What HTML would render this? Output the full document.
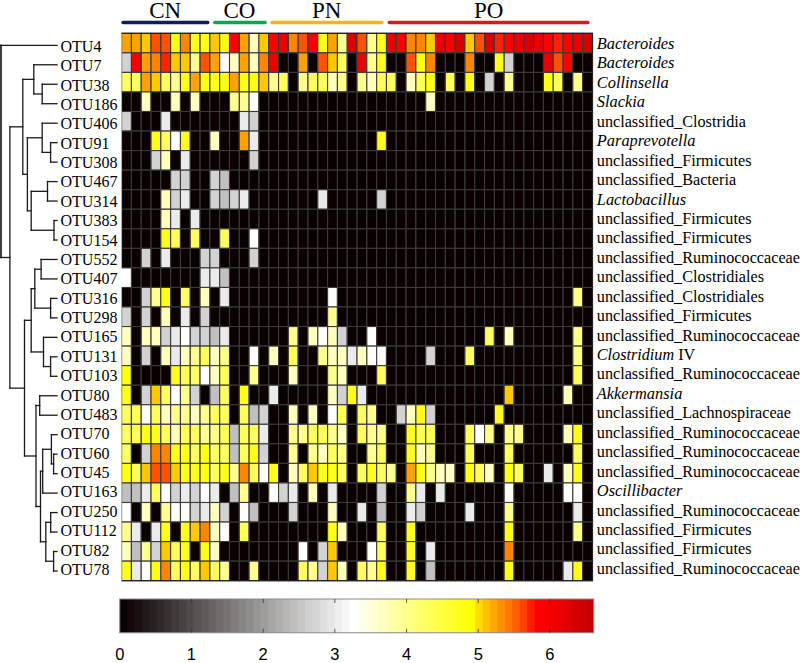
<!DOCTYPE html>
<html><head><meta charset="utf-8"><title>heatmap</title>
<style>
html,body{margin:0;padding:0;background:#fff;}
body{width:800px;height:663px;overflow:hidden;}
svg{display:block;}
text{font-family:"Liberation Serif",serif;fill:#000;}
.s{font-family:"Liberation Sans",sans-serif;}
.i{font-style:italic;}
</style></head><body>
<svg width="800" height="663" viewBox="0 0 800 663">
<line x1="123.05" y1="22.6" x2="207.75" y2="22.6" stroke="#0c1e5e" stroke-width="3.5" stroke-linecap="round"/>
<text x="165.2" y="17.7" font-size="23" text-anchor="middle">CN</text>
<line x1="214.85" y1="22.6" x2="265.05" y2="22.6" stroke="#0aa84f" stroke-width="3.5" stroke-linecap="round"/>
<text x="239.5" y="17.7" font-size="23" text-anchor="middle">CO</text>
<line x1="272.05" y1="22.6" x2="381.85" y2="22.6" stroke="#fbb60a" stroke-width="3.5" stroke-linecap="round"/>
<text x="326.7" y="17.7" font-size="23" text-anchor="middle">PN</text>
<line x1="389.35" y1="22.6" x2="587.85" y2="22.6" stroke="#ee1018" stroke-width="3.5" stroke-linecap="round"/>
<text x="488.7" y="17.7" font-size="23" text-anchor="middle">PO</text>
<g stroke="#3a3a3a" stroke-width="1.1">
<rect x="121.6" y="33.3" width="9.81" height="19.55" fill="#ffa200"/><rect x="131.41" y="33.3" width="9.81" height="19.55" fill="#ffa200"/><rect x="141.22" y="33.3" width="9.81" height="19.55" fill="#ffc800"/><rect x="151.03" y="33.3" width="9.81" height="19.55" fill="#ff5200"/><rect x="160.84" y="33.3" width="9.81" height="19.55" fill="#ff5200"/><rect x="170.65" y="33.3" width="9.81" height="19.55" fill="#ffff18"/><rect x="180.46" y="33.3" width="9.81" height="19.55" fill="#ff8400"/><rect x="190.27" y="33.3" width="9.81" height="19.55" fill="#ffff18"/><rect x="200.08" y="33.3" width="9.81" height="19.55" fill="#ffff18"/><rect x="209.89" y="33.3" width="9.81" height="19.55" fill="#ffc800"/><rect x="219.7" y="33.3" width="9.81" height="19.55" fill="#ffff18"/><rect x="229.51" y="33.3" width="9.81" height="19.55" fill="#fc0000"/><rect x="239.32" y="33.3" width="9.81" height="19.55" fill="#ffa200"/><rect x="249.13" y="33.3" width="9.81" height="19.55" fill="#ffffbe"/><rect x="258.94" y="33.3" width="9.81" height="19.55" fill="#ffc800"/><rect x="268.75" y="33.3" width="9.81" height="19.55" fill="#fc0000"/><rect x="278.56" y="33.3" width="9.81" height="19.55" fill="#ea0000"/><rect x="288.37" y="33.3" width="9.81" height="19.55" fill="#ff8400"/><rect x="298.18" y="33.3" width="9.81" height="19.55" fill="#ff5200"/><rect x="307.99" y="33.3" width="9.81" height="19.55" fill="#fc0000"/><rect x="317.8" y="33.3" width="9.81" height="19.55" fill="#ffff18"/><rect x="327.61" y="33.3" width="9.81" height="19.55" fill="#ffa200"/><rect x="337.42" y="33.3" width="9.81" height="19.55" fill="#ffff90"/><rect x="347.23" y="33.3" width="9.81" height="19.55" fill="#d60000"/><rect x="357.04" y="33.3" width="9.81" height="19.55" fill="#ff5200"/><rect x="366.85" y="33.3" width="9.81" height="19.55" fill="#ffff90"/><rect x="376.66" y="33.3" width="9.81" height="19.55" fill="#ffff18"/><rect x="386.47" y="33.3" width="9.81" height="19.55" fill="#ea0000"/><rect x="396.28" y="33.3" width="9.81" height="19.55" fill="#fc0000"/><rect x="406.09" y="33.3" width="9.81" height="19.55" fill="#ff8400"/><rect x="415.9" y="33.3" width="9.81" height="19.55" fill="#ff8400"/><rect x="425.71" y="33.3" width="9.81" height="19.55" fill="#ffc800"/><rect x="435.52" y="33.3" width="9.81" height="19.55" fill="#ea0000"/><rect x="445.33" y="33.3" width="9.81" height="19.55" fill="#fc0000"/><rect x="455.14" y="33.3" width="9.81" height="19.55" fill="#d60000"/><rect x="464.95" y="33.3" width="9.81" height="19.55" fill="#ffc800"/><rect x="474.76" y="33.3" width="9.81" height="19.55" fill="#ff5200"/><rect x="484.57" y="33.3" width="9.81" height="19.55" fill="#d60000"/><rect x="494.38" y="33.3" width="9.81" height="19.55" fill="#ff2200"/><rect x="504.19" y="33.3" width="9.81" height="19.55" fill="#fc0000"/><rect x="514" y="33.3" width="9.81" height="19.55" fill="#ea0000"/><rect x="523.81" y="33.3" width="9.81" height="19.55" fill="#d60000"/><rect x="533.62" y="33.3" width="9.81" height="19.55" fill="#ea0000"/><rect x="543.43" y="33.3" width="9.81" height="19.55" fill="#fc0000"/><rect x="553.24" y="33.3" width="9.81" height="19.55" fill="#ff2200"/><rect x="563.05" y="33.3" width="9.81" height="19.55" fill="#fc0000"/><rect x="572.86" y="33.3" width="9.81" height="19.55" fill="#ea0000"/><rect x="582.67" y="33.3" width="9.81" height="19.55" fill="#d60000"/>
<rect x="121.6" y="52.85" width="9.81" height="19.55" fill="#d2d2d2"/><rect x="131.41" y="52.85" width="9.81" height="19.55" fill="#fc0000"/><rect x="141.22" y="52.85" width="9.81" height="19.55" fill="#ffa200"/><rect x="151.03" y="52.85" width="9.81" height="19.55" fill="#ff8400"/><rect x="160.84" y="52.85" width="9.81" height="19.55" fill="#ff2200"/><rect x="170.65" y="52.85" width="9.81" height="19.55" fill="#ffc800"/><rect x="180.46" y="52.85" width="9.81" height="19.55" fill="#ffc800"/><rect x="190.27" y="52.85" width="9.81" height="19.55" fill="#ffff90"/><rect x="200.08" y="52.85" width="9.81" height="19.55" fill="#ff5200"/><rect x="209.89" y="52.85" width="9.81" height="19.55" fill="#ffa200"/><rect x="219.7" y="52.85" width="9.81" height="19.55" fill="#fffffb"/><rect x="229.51" y="52.85" width="9.81" height="19.55" fill="#ffffbe"/><rect x="239.32" y="52.85" width="9.81" height="19.55" fill="#ffa200"/><rect x="249.13" y="52.85" width="9.81" height="19.55" fill="#ffffbe"/><rect x="258.94" y="52.85" width="9.81" height="19.55" fill="#ff8400"/><rect x="268.75" y="52.85" width="9.81" height="19.55" fill="#ea0000"/><rect x="278.56" y="52.85" width="9.81" height="19.55" fill="#0a0000"/><rect x="288.37" y="52.85" width="9.81" height="19.55" fill="#0a0000"/><rect x="298.18" y="52.85" width="9.81" height="19.55" fill="#ffa200"/><rect x="307.99" y="52.85" width="9.81" height="19.55" fill="#0a0000"/><rect x="317.8" y="52.85" width="9.81" height="19.55" fill="#ff5200"/><rect x="327.61" y="52.85" width="9.81" height="19.55" fill="#ffc800"/><rect x="337.42" y="52.85" width="9.81" height="19.55" fill="#ffff5c"/><rect x="347.23" y="52.85" width="9.81" height="19.55" fill="#0a0000"/><rect x="357.04" y="52.85" width="9.81" height="19.55" fill="#ea0000"/><rect x="366.85" y="52.85" width="9.81" height="19.55" fill="#ffff90"/><rect x="376.66" y="52.85" width="9.81" height="19.55" fill="#ffff18"/><rect x="386.47" y="52.85" width="9.81" height="19.55" fill="#0a0000"/><rect x="396.28" y="52.85" width="9.81" height="19.55" fill="#0a0000"/><rect x="406.09" y="52.85" width="9.81" height="19.55" fill="#ff5200"/><rect x="415.9" y="52.85" width="9.81" height="19.55" fill="#ffff18"/><rect x="425.71" y="52.85" width="9.81" height="19.55" fill="#ff8400"/><rect x="435.52" y="52.85" width="9.81" height="19.55" fill="#0a0000"/><rect x="445.33" y="52.85" width="9.81" height="19.55" fill="#0a0000"/><rect x="455.14" y="52.85" width="9.81" height="19.55" fill="#0a0000"/><rect x="464.95" y="52.85" width="9.81" height="19.55" fill="#ff8400"/><rect x="474.76" y="52.85" width="9.81" height="19.55" fill="#0a0000"/><rect x="484.57" y="52.85" width="9.81" height="19.55" fill="#0a0000"/><rect x="494.38" y="52.85" width="9.81" height="19.55" fill="#ffff18"/><rect x="504.19" y="52.85" width="9.81" height="19.55" fill="#d2d2d2"/><rect x="514" y="52.85" width="9.81" height="19.55" fill="#0a0000"/><rect x="523.81" y="52.85" width="9.81" height="19.55" fill="#0a0000"/><rect x="533.62" y="52.85" width="9.81" height="19.55" fill="#0a0000"/><rect x="543.43" y="52.85" width="9.81" height="19.55" fill="#ea0000"/><rect x="553.24" y="52.85" width="9.81" height="19.55" fill="#ff5200"/><rect x="563.05" y="52.85" width="9.81" height="19.55" fill="#fc0000"/><rect x="572.86" y="52.85" width="9.81" height="19.55" fill="#0a0000"/><rect x="582.67" y="52.85" width="9.81" height="19.55" fill="#0a0000"/>
<rect x="121.6" y="72.4" width="9.81" height="19.55" fill="#ffff5c"/><rect x="131.41" y="72.4" width="9.81" height="19.55" fill="#ffff5c"/><rect x="141.22" y="72.4" width="9.81" height="19.55" fill="#ffa200"/><rect x="151.03" y="72.4" width="9.81" height="19.55" fill="#ffc800"/><rect x="160.84" y="72.4" width="9.81" height="19.55" fill="#ffff5c"/><rect x="170.65" y="72.4" width="9.81" height="19.55" fill="#ffff90"/><rect x="180.46" y="72.4" width="9.81" height="19.55" fill="#ffff18"/><rect x="190.27" y="72.4" width="9.81" height="19.55" fill="#ffa200"/><rect x="200.08" y="72.4" width="9.81" height="19.55" fill="#ffff18"/><rect x="209.89" y="72.4" width="9.81" height="19.55" fill="#ffff18"/><rect x="219.7" y="72.4" width="9.81" height="19.55" fill="#ffff18"/><rect x="229.51" y="72.4" width="9.81" height="19.55" fill="#ffa200"/><rect x="239.32" y="72.4" width="9.81" height="19.55" fill="#ffff18"/><rect x="249.13" y="72.4" width="9.81" height="19.55" fill="#ffff18"/><rect x="258.94" y="72.4" width="9.81" height="19.55" fill="#ffc800"/><rect x="268.75" y="72.4" width="9.81" height="19.55" fill="#ffff90"/><rect x="278.56" y="72.4" width="9.81" height="19.55" fill="#ffff5c"/><rect x="288.37" y="72.4" width="9.81" height="19.55" fill="#0a0000"/><rect x="298.18" y="72.4" width="9.81" height="19.55" fill="#ffff90"/><rect x="307.99" y="72.4" width="9.81" height="19.55" fill="#ffff5c"/><rect x="317.8" y="72.4" width="9.81" height="19.55" fill="#ffff5c"/><rect x="327.61" y="72.4" width="9.81" height="19.55" fill="#ffffbe"/><rect x="337.42" y="72.4" width="9.81" height="19.55" fill="#ffff90"/><rect x="347.23" y="72.4" width="9.81" height="19.55" fill="#0a0000"/><rect x="357.04" y="72.4" width="9.81" height="19.55" fill="#ffff90"/><rect x="366.85" y="72.4" width="9.81" height="19.55" fill="#ffffbe"/><rect x="376.66" y="72.4" width="9.81" height="19.55" fill="#ffff5c"/><rect x="386.47" y="72.4" width="9.81" height="19.55" fill="#ffff5c"/><rect x="396.28" y="72.4" width="9.81" height="19.55" fill="#0a0000"/><rect x="406.09" y="72.4" width="9.81" height="19.55" fill="#ffffbe"/><rect x="415.9" y="72.4" width="9.81" height="19.55" fill="#ffff5c"/><rect x="425.71" y="72.4" width="9.81" height="19.55" fill="#ffff18"/><rect x="435.52" y="72.4" width="9.81" height="19.55" fill="#0a0000"/><rect x="445.33" y="72.4" width="9.81" height="19.55" fill="#ffff5c"/><rect x="455.14" y="72.4" width="9.81" height="19.55" fill="#0a0000"/><rect x="464.95" y="72.4" width="9.81" height="19.55" fill="#ffff18"/><rect x="474.76" y="72.4" width="9.81" height="19.55" fill="#0a0000"/><rect x="484.57" y="72.4" width="9.81" height="19.55" fill="#d2d2d2"/><rect x="494.38" y="72.4" width="9.81" height="19.55" fill="#0a0000"/><rect x="504.19" y="72.4" width="9.81" height="19.55" fill="#ffff90"/><rect x="514" y="72.4" width="9.81" height="19.55" fill="#0a0000"/><rect x="523.81" y="72.4" width="9.81" height="19.55" fill="#0a0000"/><rect x="533.62" y="72.4" width="9.81" height="19.55" fill="#0a0000"/><rect x="543.43" y="72.4" width="9.81" height="19.55" fill="#ffff18"/><rect x="553.24" y="72.4" width="9.81" height="19.55" fill="#ffff5c"/><rect x="563.05" y="72.4" width="9.81" height="19.55" fill="#0a0000"/><rect x="572.86" y="72.4" width="9.81" height="19.55" fill="#ffff90"/><rect x="582.67" y="72.4" width="9.81" height="19.55" fill="#0a0000"/>
<rect x="121.6" y="91.95" width="9.81" height="19.55" fill="#0a0000"/><rect x="131.41" y="91.95" width="9.81" height="19.55" fill="#0a0000"/><rect x="141.22" y="91.95" width="9.81" height="19.55" fill="#ffffbe"/><rect x="151.03" y="91.95" width="9.81" height="19.55" fill="#0a0000"/><rect x="160.84" y="91.95" width="9.81" height="19.55" fill="#0a0000"/><rect x="170.65" y="91.95" width="9.81" height="19.55" fill="#ffffbe"/><rect x="180.46" y="91.95" width="9.81" height="19.55" fill="#0a0000"/><rect x="190.27" y="91.95" width="9.81" height="19.55" fill="#ffffbe"/><rect x="200.08" y="91.95" width="9.81" height="19.55" fill="#0a0000"/><rect x="209.89" y="91.95" width="9.81" height="19.55" fill="#0a0000"/><rect x="219.7" y="91.95" width="9.81" height="19.55" fill="#0a0000"/><rect x="229.51" y="91.95" width="9.81" height="19.55" fill="#ffff90"/><rect x="239.32" y="91.95" width="9.81" height="19.55" fill="#ffff90"/><rect x="249.13" y="91.95" width="9.81" height="19.55" fill="#fffffb"/><rect x="258.94" y="91.95" width="9.81" height="19.55" fill="#0a0000"/><rect x="268.75" y="91.95" width="9.81" height="19.55" fill="#0a0000"/><rect x="278.56" y="91.95" width="9.81" height="19.55" fill="#0a0000"/><rect x="288.37" y="91.95" width="9.81" height="19.55" fill="#0a0000"/><rect x="298.18" y="91.95" width="9.81" height="19.55" fill="#0a0000"/><rect x="307.99" y="91.95" width="9.81" height="19.55" fill="#0a0000"/><rect x="317.8" y="91.95" width="9.81" height="19.55" fill="#0a0000"/><rect x="327.61" y="91.95" width="9.81" height="19.55" fill="#0a0000"/><rect x="337.42" y="91.95" width="9.81" height="19.55" fill="#0a0000"/><rect x="347.23" y="91.95" width="9.81" height="19.55" fill="#0a0000"/><rect x="357.04" y="91.95" width="9.81" height="19.55" fill="#0a0000"/><rect x="366.85" y="91.95" width="9.81" height="19.55" fill="#0a0000"/><rect x="376.66" y="91.95" width="9.81" height="19.55" fill="#0a0000"/><rect x="386.47" y="91.95" width="9.81" height="19.55" fill="#0a0000"/><rect x="396.28" y="91.95" width="9.81" height="19.55" fill="#0a0000"/><rect x="406.09" y="91.95" width="9.81" height="19.55" fill="#0a0000"/><rect x="415.9" y="91.95" width="9.81" height="19.55" fill="#0a0000"/><rect x="425.71" y="91.95" width="9.81" height="19.55" fill="#ffffbe"/><rect x="435.52" y="91.95" width="9.81" height="19.55" fill="#0a0000"/><rect x="445.33" y="91.95" width="9.81" height="19.55" fill="#0a0000"/><rect x="455.14" y="91.95" width="9.81" height="19.55" fill="#0a0000"/><rect x="464.95" y="91.95" width="9.81" height="19.55" fill="#0a0000"/><rect x="474.76" y="91.95" width="9.81" height="19.55" fill="#0a0000"/><rect x="484.57" y="91.95" width="9.81" height="19.55" fill="#0a0000"/><rect x="494.38" y="91.95" width="9.81" height="19.55" fill="#0a0000"/><rect x="504.19" y="91.95" width="9.81" height="19.55" fill="#0a0000"/><rect x="514" y="91.95" width="9.81" height="19.55" fill="#0a0000"/><rect x="523.81" y="91.95" width="9.81" height="19.55" fill="#0a0000"/><rect x="533.62" y="91.95" width="9.81" height="19.55" fill="#0a0000"/><rect x="543.43" y="91.95" width="9.81" height="19.55" fill="#0a0000"/><rect x="553.24" y="91.95" width="9.81" height="19.55" fill="#0a0000"/><rect x="563.05" y="91.95" width="9.81" height="19.55" fill="#0a0000"/><rect x="572.86" y="91.95" width="9.81" height="19.55" fill="#0a0000"/><rect x="582.67" y="91.95" width="9.81" height="19.55" fill="#0a0000"/>
<rect x="121.6" y="111.5" width="9.81" height="19.55" fill="#d2d2d2"/><rect x="131.41" y="111.5" width="9.81" height="19.55" fill="#0a0000"/><rect x="141.22" y="111.5" width="9.81" height="19.55" fill="#0a0000"/><rect x="151.03" y="111.5" width="9.81" height="19.55" fill="#0a0000"/><rect x="160.84" y="111.5" width="9.81" height="19.55" fill="#ebebeb"/><rect x="170.65" y="111.5" width="9.81" height="19.55" fill="#0a0000"/><rect x="180.46" y="111.5" width="9.81" height="19.55" fill="#0a0000"/><rect x="190.27" y="111.5" width="9.81" height="19.55" fill="#0a0000"/><rect x="200.08" y="111.5" width="9.81" height="19.55" fill="#0a0000"/><rect x="209.89" y="111.5" width="9.81" height="19.55" fill="#0a0000"/><rect x="219.7" y="111.5" width="9.81" height="19.55" fill="#0a0000"/><rect x="229.51" y="111.5" width="9.81" height="19.55" fill="#0a0000"/><rect x="239.32" y="111.5" width="9.81" height="19.55" fill="#ebebeb"/><rect x="249.13" y="111.5" width="9.81" height="19.55" fill="#d2d2d2"/><rect x="258.94" y="111.5" width="9.81" height="19.55" fill="#0a0000"/><rect x="268.75" y="111.5" width="9.81" height="19.55" fill="#0a0000"/><rect x="278.56" y="111.5" width="9.81" height="19.55" fill="#0a0000"/><rect x="288.37" y="111.5" width="9.81" height="19.55" fill="#0a0000"/><rect x="298.18" y="111.5" width="9.81" height="19.55" fill="#0a0000"/><rect x="307.99" y="111.5" width="9.81" height="19.55" fill="#0a0000"/><rect x="317.8" y="111.5" width="9.81" height="19.55" fill="#0a0000"/><rect x="327.61" y="111.5" width="9.81" height="19.55" fill="#0a0000"/><rect x="337.42" y="111.5" width="9.81" height="19.55" fill="#0a0000"/><rect x="347.23" y="111.5" width="9.81" height="19.55" fill="#0a0000"/><rect x="357.04" y="111.5" width="9.81" height="19.55" fill="#0a0000"/><rect x="366.85" y="111.5" width="9.81" height="19.55" fill="#0a0000"/><rect x="376.66" y="111.5" width="9.81" height="19.55" fill="#0a0000"/><rect x="386.47" y="111.5" width="9.81" height="19.55" fill="#0a0000"/><rect x="396.28" y="111.5" width="9.81" height="19.55" fill="#0a0000"/><rect x="406.09" y="111.5" width="9.81" height="19.55" fill="#0a0000"/><rect x="415.9" y="111.5" width="9.81" height="19.55" fill="#0a0000"/><rect x="425.71" y="111.5" width="9.81" height="19.55" fill="#0a0000"/><rect x="435.52" y="111.5" width="9.81" height="19.55" fill="#0a0000"/><rect x="445.33" y="111.5" width="9.81" height="19.55" fill="#0a0000"/><rect x="455.14" y="111.5" width="9.81" height="19.55" fill="#0a0000"/><rect x="464.95" y="111.5" width="9.81" height="19.55" fill="#0a0000"/><rect x="474.76" y="111.5" width="9.81" height="19.55" fill="#0a0000"/><rect x="484.57" y="111.5" width="9.81" height="19.55" fill="#0a0000"/><rect x="494.38" y="111.5" width="9.81" height="19.55" fill="#0a0000"/><rect x="504.19" y="111.5" width="9.81" height="19.55" fill="#0a0000"/><rect x="514" y="111.5" width="9.81" height="19.55" fill="#0a0000"/><rect x="523.81" y="111.5" width="9.81" height="19.55" fill="#0a0000"/><rect x="533.62" y="111.5" width="9.81" height="19.55" fill="#0a0000"/><rect x="543.43" y="111.5" width="9.81" height="19.55" fill="#0a0000"/><rect x="553.24" y="111.5" width="9.81" height="19.55" fill="#0a0000"/><rect x="563.05" y="111.5" width="9.81" height="19.55" fill="#0a0000"/><rect x="572.86" y="111.5" width="9.81" height="19.55" fill="#0a0000"/><rect x="582.67" y="111.5" width="9.81" height="19.55" fill="#0a0000"/>
<rect x="121.6" y="131.05" width="9.81" height="19.55" fill="#0a0000"/><rect x="131.41" y="131.05" width="9.81" height="19.55" fill="#0a0000"/><rect x="141.22" y="131.05" width="9.81" height="19.55" fill="#0a0000"/><rect x="151.03" y="131.05" width="9.81" height="19.55" fill="#ffff18"/><rect x="160.84" y="131.05" width="9.81" height="19.55" fill="#ffff5c"/><rect x="170.65" y="131.05" width="9.81" height="19.55" fill="#fffffb"/><rect x="180.46" y="131.05" width="9.81" height="19.55" fill="#ffff18"/><rect x="190.27" y="131.05" width="9.81" height="19.55" fill="#0a0000"/><rect x="200.08" y="131.05" width="9.81" height="19.55" fill="#0a0000"/><rect x="209.89" y="131.05" width="9.81" height="19.55" fill="#ffffbe"/><rect x="219.7" y="131.05" width="9.81" height="19.55" fill="#0a0000"/><rect x="229.51" y="131.05" width="9.81" height="19.55" fill="#0a0000"/><rect x="239.32" y="131.05" width="9.81" height="19.55" fill="#ffa200"/><rect x="249.13" y="131.05" width="9.81" height="19.55" fill="#ebebeb"/><rect x="258.94" y="131.05" width="9.81" height="19.55" fill="#0a0000"/><rect x="268.75" y="131.05" width="9.81" height="19.55" fill="#0a0000"/><rect x="278.56" y="131.05" width="9.81" height="19.55" fill="#0a0000"/><rect x="288.37" y="131.05" width="9.81" height="19.55" fill="#0a0000"/><rect x="298.18" y="131.05" width="9.81" height="19.55" fill="#0a0000"/><rect x="307.99" y="131.05" width="9.81" height="19.55" fill="#0a0000"/><rect x="317.8" y="131.05" width="9.81" height="19.55" fill="#0a0000"/><rect x="327.61" y="131.05" width="9.81" height="19.55" fill="#0a0000"/><rect x="337.42" y="131.05" width="9.81" height="19.55" fill="#0a0000"/><rect x="347.23" y="131.05" width="9.81" height="19.55" fill="#0a0000"/><rect x="357.04" y="131.05" width="9.81" height="19.55" fill="#0a0000"/><rect x="366.85" y="131.05" width="9.81" height="19.55" fill="#0a0000"/><rect x="376.66" y="131.05" width="9.81" height="19.55" fill="#ffff18"/><rect x="386.47" y="131.05" width="9.81" height="19.55" fill="#0a0000"/><rect x="396.28" y="131.05" width="9.81" height="19.55" fill="#0a0000"/><rect x="406.09" y="131.05" width="9.81" height="19.55" fill="#0a0000"/><rect x="415.9" y="131.05" width="9.81" height="19.55" fill="#0a0000"/><rect x="425.71" y="131.05" width="9.81" height="19.55" fill="#0a0000"/><rect x="435.52" y="131.05" width="9.81" height="19.55" fill="#0a0000"/><rect x="445.33" y="131.05" width="9.81" height="19.55" fill="#0a0000"/><rect x="455.14" y="131.05" width="9.81" height="19.55" fill="#0a0000"/><rect x="464.95" y="131.05" width="9.81" height="19.55" fill="#0a0000"/><rect x="474.76" y="131.05" width="9.81" height="19.55" fill="#0a0000"/><rect x="484.57" y="131.05" width="9.81" height="19.55" fill="#0a0000"/><rect x="494.38" y="131.05" width="9.81" height="19.55" fill="#0a0000"/><rect x="504.19" y="131.05" width="9.81" height="19.55" fill="#0a0000"/><rect x="514" y="131.05" width="9.81" height="19.55" fill="#0a0000"/><rect x="523.81" y="131.05" width="9.81" height="19.55" fill="#0a0000"/><rect x="533.62" y="131.05" width="9.81" height="19.55" fill="#0a0000"/><rect x="543.43" y="131.05" width="9.81" height="19.55" fill="#0a0000"/><rect x="553.24" y="131.05" width="9.81" height="19.55" fill="#0a0000"/><rect x="563.05" y="131.05" width="9.81" height="19.55" fill="#0a0000"/><rect x="572.86" y="131.05" width="9.81" height="19.55" fill="#0a0000"/><rect x="582.67" y="131.05" width="9.81" height="19.55" fill="#0a0000"/>
<rect x="121.6" y="150.6" width="9.81" height="19.55" fill="#0a0000"/><rect x="131.41" y="150.6" width="9.81" height="19.55" fill="#0a0000"/><rect x="141.22" y="150.6" width="9.81" height="19.55" fill="#0a0000"/><rect x="151.03" y="150.6" width="9.81" height="19.55" fill="#d2d2d2"/><rect x="160.84" y="150.6" width="9.81" height="19.55" fill="#ffffbe"/><rect x="170.65" y="150.6" width="9.81" height="19.55" fill="#0a0000"/><rect x="180.46" y="150.6" width="9.81" height="19.55" fill="#ebebeb"/><rect x="190.27" y="150.6" width="9.81" height="19.55" fill="#0a0000"/><rect x="200.08" y="150.6" width="9.81" height="19.55" fill="#0a0000"/><rect x="209.89" y="150.6" width="9.81" height="19.55" fill="#0a0000"/><rect x="219.7" y="150.6" width="9.81" height="19.55" fill="#0a0000"/><rect x="229.51" y="150.6" width="9.81" height="19.55" fill="#0a0000"/><rect x="239.32" y="150.6" width="9.81" height="19.55" fill="#0a0000"/><rect x="249.13" y="150.6" width="9.81" height="19.55" fill="#d2d2d2"/><rect x="258.94" y="150.6" width="9.81" height="19.55" fill="#0a0000"/><rect x="268.75" y="150.6" width="9.81" height="19.55" fill="#0a0000"/><rect x="278.56" y="150.6" width="9.81" height="19.55" fill="#0a0000"/><rect x="288.37" y="150.6" width="9.81" height="19.55" fill="#0a0000"/><rect x="298.18" y="150.6" width="9.81" height="19.55" fill="#0a0000"/><rect x="307.99" y="150.6" width="9.81" height="19.55" fill="#0a0000"/><rect x="317.8" y="150.6" width="9.81" height="19.55" fill="#0a0000"/><rect x="327.61" y="150.6" width="9.81" height="19.55" fill="#0a0000"/><rect x="337.42" y="150.6" width="9.81" height="19.55" fill="#0a0000"/><rect x="347.23" y="150.6" width="9.81" height="19.55" fill="#0a0000"/><rect x="357.04" y="150.6" width="9.81" height="19.55" fill="#0a0000"/><rect x="366.85" y="150.6" width="9.81" height="19.55" fill="#0a0000"/><rect x="376.66" y="150.6" width="9.81" height="19.55" fill="#0a0000"/><rect x="386.47" y="150.6" width="9.81" height="19.55" fill="#0a0000"/><rect x="396.28" y="150.6" width="9.81" height="19.55" fill="#0a0000"/><rect x="406.09" y="150.6" width="9.81" height="19.55" fill="#0a0000"/><rect x="415.9" y="150.6" width="9.81" height="19.55" fill="#0a0000"/><rect x="425.71" y="150.6" width="9.81" height="19.55" fill="#0a0000"/><rect x="435.52" y="150.6" width="9.81" height="19.55" fill="#0a0000"/><rect x="445.33" y="150.6" width="9.81" height="19.55" fill="#0a0000"/><rect x="455.14" y="150.6" width="9.81" height="19.55" fill="#0a0000"/><rect x="464.95" y="150.6" width="9.81" height="19.55" fill="#0a0000"/><rect x="474.76" y="150.6" width="9.81" height="19.55" fill="#0a0000"/><rect x="484.57" y="150.6" width="9.81" height="19.55" fill="#0a0000"/><rect x="494.38" y="150.6" width="9.81" height="19.55" fill="#0a0000"/><rect x="504.19" y="150.6" width="9.81" height="19.55" fill="#0a0000"/><rect x="514" y="150.6" width="9.81" height="19.55" fill="#0a0000"/><rect x="523.81" y="150.6" width="9.81" height="19.55" fill="#0a0000"/><rect x="533.62" y="150.6" width="9.81" height="19.55" fill="#0a0000"/><rect x="543.43" y="150.6" width="9.81" height="19.55" fill="#0a0000"/><rect x="553.24" y="150.6" width="9.81" height="19.55" fill="#0a0000"/><rect x="563.05" y="150.6" width="9.81" height="19.55" fill="#0a0000"/><rect x="572.86" y="150.6" width="9.81" height="19.55" fill="#0a0000"/><rect x="582.67" y="150.6" width="9.81" height="19.55" fill="#0a0000"/>
<rect x="121.6" y="170.15" width="9.81" height="19.55" fill="#0a0000"/><rect x="131.41" y="170.15" width="9.81" height="19.55" fill="#0a0000"/><rect x="141.22" y="170.15" width="9.81" height="19.55" fill="#0a0000"/><rect x="151.03" y="170.15" width="9.81" height="19.55" fill="#0a0000"/><rect x="160.84" y="170.15" width="9.81" height="19.55" fill="#0a0000"/><rect x="170.65" y="170.15" width="9.81" height="19.55" fill="#d2d2d2"/><rect x="180.46" y="170.15" width="9.81" height="19.55" fill="#d2d2d2"/><rect x="190.27" y="170.15" width="9.81" height="19.55" fill="#0a0000"/><rect x="200.08" y="170.15" width="9.81" height="19.55" fill="#0a0000"/><rect x="209.89" y="170.15" width="9.81" height="19.55" fill="#d2d2d2"/><rect x="219.7" y="170.15" width="9.81" height="19.55" fill="#c0c0c0"/><rect x="229.51" y="170.15" width="9.81" height="19.55" fill="#0a0000"/><rect x="239.32" y="170.15" width="9.81" height="19.55" fill="#0a0000"/><rect x="249.13" y="170.15" width="9.81" height="19.55" fill="#0a0000"/><rect x="258.94" y="170.15" width="9.81" height="19.55" fill="#0a0000"/><rect x="268.75" y="170.15" width="9.81" height="19.55" fill="#0a0000"/><rect x="278.56" y="170.15" width="9.81" height="19.55" fill="#0a0000"/><rect x="288.37" y="170.15" width="9.81" height="19.55" fill="#0a0000"/><rect x="298.18" y="170.15" width="9.81" height="19.55" fill="#0a0000"/><rect x="307.99" y="170.15" width="9.81" height="19.55" fill="#0a0000"/><rect x="317.8" y="170.15" width="9.81" height="19.55" fill="#0a0000"/><rect x="327.61" y="170.15" width="9.81" height="19.55" fill="#0a0000"/><rect x="337.42" y="170.15" width="9.81" height="19.55" fill="#0a0000"/><rect x="347.23" y="170.15" width="9.81" height="19.55" fill="#0a0000"/><rect x="357.04" y="170.15" width="9.81" height="19.55" fill="#0a0000"/><rect x="366.85" y="170.15" width="9.81" height="19.55" fill="#0a0000"/><rect x="376.66" y="170.15" width="9.81" height="19.55" fill="#0a0000"/><rect x="386.47" y="170.15" width="9.81" height="19.55" fill="#0a0000"/><rect x="396.28" y="170.15" width="9.81" height="19.55" fill="#0a0000"/><rect x="406.09" y="170.15" width="9.81" height="19.55" fill="#0a0000"/><rect x="415.9" y="170.15" width="9.81" height="19.55" fill="#0a0000"/><rect x="425.71" y="170.15" width="9.81" height="19.55" fill="#0a0000"/><rect x="435.52" y="170.15" width="9.81" height="19.55" fill="#0a0000"/><rect x="445.33" y="170.15" width="9.81" height="19.55" fill="#0a0000"/><rect x="455.14" y="170.15" width="9.81" height="19.55" fill="#0a0000"/><rect x="464.95" y="170.15" width="9.81" height="19.55" fill="#0a0000"/><rect x="474.76" y="170.15" width="9.81" height="19.55" fill="#0a0000"/><rect x="484.57" y="170.15" width="9.81" height="19.55" fill="#0a0000"/><rect x="494.38" y="170.15" width="9.81" height="19.55" fill="#0a0000"/><rect x="504.19" y="170.15" width="9.81" height="19.55" fill="#0a0000"/><rect x="514" y="170.15" width="9.81" height="19.55" fill="#0a0000"/><rect x="523.81" y="170.15" width="9.81" height="19.55" fill="#0a0000"/><rect x="533.62" y="170.15" width="9.81" height="19.55" fill="#0a0000"/><rect x="543.43" y="170.15" width="9.81" height="19.55" fill="#0a0000"/><rect x="553.24" y="170.15" width="9.81" height="19.55" fill="#0a0000"/><rect x="563.05" y="170.15" width="9.81" height="19.55" fill="#0a0000"/><rect x="572.86" y="170.15" width="9.81" height="19.55" fill="#0a0000"/><rect x="582.67" y="170.15" width="9.81" height="19.55" fill="#0a0000"/>
<rect x="121.6" y="189.7" width="9.81" height="19.55" fill="#0a0000"/><rect x="131.41" y="189.7" width="9.81" height="19.55" fill="#0a0000"/><rect x="141.22" y="189.7" width="9.81" height="19.55" fill="#0a0000"/><rect x="151.03" y="189.7" width="9.81" height="19.55" fill="#0a0000"/><rect x="160.84" y="189.7" width="9.81" height="19.55" fill="#ffffbe"/><rect x="170.65" y="189.7" width="9.81" height="19.55" fill="#d2d2d2"/><rect x="180.46" y="189.7" width="9.81" height="19.55" fill="#ebebeb"/><rect x="190.27" y="189.7" width="9.81" height="19.55" fill="#0a0000"/><rect x="200.08" y="189.7" width="9.81" height="19.55" fill="#0a0000"/><rect x="209.89" y="189.7" width="9.81" height="19.55" fill="#d2d2d2"/><rect x="219.7" y="189.7" width="9.81" height="19.55" fill="#c0c0c0"/><rect x="229.51" y="189.7" width="9.81" height="19.55" fill="#d2d2d2"/><rect x="239.32" y="189.7" width="9.81" height="19.55" fill="#ebebeb"/><rect x="249.13" y="189.7" width="9.81" height="19.55" fill="#0a0000"/><rect x="258.94" y="189.7" width="9.81" height="19.55" fill="#0a0000"/><rect x="268.75" y="189.7" width="9.81" height="19.55" fill="#0a0000"/><rect x="278.56" y="189.7" width="9.81" height="19.55" fill="#0a0000"/><rect x="288.37" y="189.7" width="9.81" height="19.55" fill="#0a0000"/><rect x="298.18" y="189.7" width="9.81" height="19.55" fill="#0a0000"/><rect x="307.99" y="189.7" width="9.81" height="19.55" fill="#0a0000"/><rect x="317.8" y="189.7" width="9.81" height="19.55" fill="#ebebeb"/><rect x="327.61" y="189.7" width="9.81" height="19.55" fill="#0a0000"/><rect x="337.42" y="189.7" width="9.81" height="19.55" fill="#0a0000"/><rect x="347.23" y="189.7" width="9.81" height="19.55" fill="#0a0000"/><rect x="357.04" y="189.7" width="9.81" height="19.55" fill="#0a0000"/><rect x="366.85" y="189.7" width="9.81" height="19.55" fill="#0a0000"/><rect x="376.66" y="189.7" width="9.81" height="19.55" fill="#d2d2d2"/><rect x="386.47" y="189.7" width="9.81" height="19.55" fill="#0a0000"/><rect x="396.28" y="189.7" width="9.81" height="19.55" fill="#0a0000"/><rect x="406.09" y="189.7" width="9.81" height="19.55" fill="#0a0000"/><rect x="415.9" y="189.7" width="9.81" height="19.55" fill="#0a0000"/><rect x="425.71" y="189.7" width="9.81" height="19.55" fill="#0a0000"/><rect x="435.52" y="189.7" width="9.81" height="19.55" fill="#0a0000"/><rect x="445.33" y="189.7" width="9.81" height="19.55" fill="#0a0000"/><rect x="455.14" y="189.7" width="9.81" height="19.55" fill="#0a0000"/><rect x="464.95" y="189.7" width="9.81" height="19.55" fill="#0a0000"/><rect x="474.76" y="189.7" width="9.81" height="19.55" fill="#0a0000"/><rect x="484.57" y="189.7" width="9.81" height="19.55" fill="#0a0000"/><rect x="494.38" y="189.7" width="9.81" height="19.55" fill="#0a0000"/><rect x="504.19" y="189.7" width="9.81" height="19.55" fill="#0a0000"/><rect x="514" y="189.7" width="9.81" height="19.55" fill="#0a0000"/><rect x="523.81" y="189.7" width="9.81" height="19.55" fill="#0a0000"/><rect x="533.62" y="189.7" width="9.81" height="19.55" fill="#0a0000"/><rect x="543.43" y="189.7" width="9.81" height="19.55" fill="#0a0000"/><rect x="553.24" y="189.7" width="9.81" height="19.55" fill="#0a0000"/><rect x="563.05" y="189.7" width="9.81" height="19.55" fill="#0a0000"/><rect x="572.86" y="189.7" width="9.81" height="19.55" fill="#0a0000"/><rect x="582.67" y="189.7" width="9.81" height="19.55" fill="#0a0000"/>
<rect x="121.6" y="209.25" width="9.81" height="19.55" fill="#0a0000"/><rect x="131.41" y="209.25" width="9.81" height="19.55" fill="#0a0000"/><rect x="141.22" y="209.25" width="9.81" height="19.55" fill="#0a0000"/><rect x="151.03" y="209.25" width="9.81" height="19.55" fill="#0a0000"/><rect x="160.84" y="209.25" width="9.81" height="19.55" fill="#ffffbe"/><rect x="170.65" y="209.25" width="9.81" height="19.55" fill="#ebebeb"/><rect x="180.46" y="209.25" width="9.81" height="19.55" fill="#0a0000"/><rect x="190.27" y="209.25" width="9.81" height="19.55" fill="#ebebeb"/><rect x="200.08" y="209.25" width="9.81" height="19.55" fill="#0a0000"/><rect x="209.89" y="209.25" width="9.81" height="19.55" fill="#0a0000"/><rect x="219.7" y="209.25" width="9.81" height="19.55" fill="#0a0000"/><rect x="229.51" y="209.25" width="9.81" height="19.55" fill="#0a0000"/><rect x="239.32" y="209.25" width="9.81" height="19.55" fill="#0a0000"/><rect x="249.13" y="209.25" width="9.81" height="19.55" fill="#0a0000"/><rect x="258.94" y="209.25" width="9.81" height="19.55" fill="#0a0000"/><rect x="268.75" y="209.25" width="9.81" height="19.55" fill="#0a0000"/><rect x="278.56" y="209.25" width="9.81" height="19.55" fill="#0a0000"/><rect x="288.37" y="209.25" width="9.81" height="19.55" fill="#0a0000"/><rect x="298.18" y="209.25" width="9.81" height="19.55" fill="#0a0000"/><rect x="307.99" y="209.25" width="9.81" height="19.55" fill="#0a0000"/><rect x="317.8" y="209.25" width="9.81" height="19.55" fill="#0a0000"/><rect x="327.61" y="209.25" width="9.81" height="19.55" fill="#0a0000"/><rect x="337.42" y="209.25" width="9.81" height="19.55" fill="#0a0000"/><rect x="347.23" y="209.25" width="9.81" height="19.55" fill="#0a0000"/><rect x="357.04" y="209.25" width="9.81" height="19.55" fill="#0a0000"/><rect x="366.85" y="209.25" width="9.81" height="19.55" fill="#0a0000"/><rect x="376.66" y="209.25" width="9.81" height="19.55" fill="#0a0000"/><rect x="386.47" y="209.25" width="9.81" height="19.55" fill="#0a0000"/><rect x="396.28" y="209.25" width="9.81" height="19.55" fill="#0a0000"/><rect x="406.09" y="209.25" width="9.81" height="19.55" fill="#0a0000"/><rect x="415.9" y="209.25" width="9.81" height="19.55" fill="#0a0000"/><rect x="425.71" y="209.25" width="9.81" height="19.55" fill="#0a0000"/><rect x="435.52" y="209.25" width="9.81" height="19.55" fill="#0a0000"/><rect x="445.33" y="209.25" width="9.81" height="19.55" fill="#0a0000"/><rect x="455.14" y="209.25" width="9.81" height="19.55" fill="#0a0000"/><rect x="464.95" y="209.25" width="9.81" height="19.55" fill="#0a0000"/><rect x="474.76" y="209.25" width="9.81" height="19.55" fill="#0a0000"/><rect x="484.57" y="209.25" width="9.81" height="19.55" fill="#0a0000"/><rect x="494.38" y="209.25" width="9.81" height="19.55" fill="#0a0000"/><rect x="504.19" y="209.25" width="9.81" height="19.55" fill="#0a0000"/><rect x="514" y="209.25" width="9.81" height="19.55" fill="#0a0000"/><rect x="523.81" y="209.25" width="9.81" height="19.55" fill="#0a0000"/><rect x="533.62" y="209.25" width="9.81" height="19.55" fill="#0a0000"/><rect x="543.43" y="209.25" width="9.81" height="19.55" fill="#0a0000"/><rect x="553.24" y="209.25" width="9.81" height="19.55" fill="#0a0000"/><rect x="563.05" y="209.25" width="9.81" height="19.55" fill="#0a0000"/><rect x="572.86" y="209.25" width="9.81" height="19.55" fill="#0a0000"/><rect x="582.67" y="209.25" width="9.81" height="19.55" fill="#0a0000"/>
<rect x="121.6" y="228.8" width="9.81" height="19.55" fill="#0a0000"/><rect x="131.41" y="228.8" width="9.81" height="19.55" fill="#0a0000"/><rect x="141.22" y="228.8" width="9.81" height="19.55" fill="#0a0000"/><rect x="151.03" y="228.8" width="9.81" height="19.55" fill="#0a0000"/><rect x="160.84" y="228.8" width="9.81" height="19.55" fill="#ffff18"/><rect x="170.65" y="228.8" width="9.81" height="19.55" fill="#ffff5c"/><rect x="180.46" y="228.8" width="9.81" height="19.55" fill="#0a0000"/><rect x="190.27" y="228.8" width="9.81" height="19.55" fill="#ffff5c"/><rect x="200.08" y="228.8" width="9.81" height="19.55" fill="#0a0000"/><rect x="209.89" y="228.8" width="9.81" height="19.55" fill="#0a0000"/><rect x="219.7" y="228.8" width="9.81" height="19.55" fill="#ffff5c"/><rect x="229.51" y="228.8" width="9.81" height="19.55" fill="#0a0000"/><rect x="239.32" y="228.8" width="9.81" height="19.55" fill="#0a0000"/><rect x="249.13" y="228.8" width="9.81" height="19.55" fill="#fffffb"/><rect x="258.94" y="228.8" width="9.81" height="19.55" fill="#0a0000"/><rect x="268.75" y="228.8" width="9.81" height="19.55" fill="#0a0000"/><rect x="278.56" y="228.8" width="9.81" height="19.55" fill="#0a0000"/><rect x="288.37" y="228.8" width="9.81" height="19.55" fill="#0a0000"/><rect x="298.18" y="228.8" width="9.81" height="19.55" fill="#0a0000"/><rect x="307.99" y="228.8" width="9.81" height="19.55" fill="#0a0000"/><rect x="317.8" y="228.8" width="9.81" height="19.55" fill="#0a0000"/><rect x="327.61" y="228.8" width="9.81" height="19.55" fill="#0a0000"/><rect x="337.42" y="228.8" width="9.81" height="19.55" fill="#0a0000"/><rect x="347.23" y="228.8" width="9.81" height="19.55" fill="#0a0000"/><rect x="357.04" y="228.8" width="9.81" height="19.55" fill="#0a0000"/><rect x="366.85" y="228.8" width="9.81" height="19.55" fill="#0a0000"/><rect x="376.66" y="228.8" width="9.81" height="19.55" fill="#0a0000"/><rect x="386.47" y="228.8" width="9.81" height="19.55" fill="#0a0000"/><rect x="396.28" y="228.8" width="9.81" height="19.55" fill="#0a0000"/><rect x="406.09" y="228.8" width="9.81" height="19.55" fill="#0a0000"/><rect x="415.9" y="228.8" width="9.81" height="19.55" fill="#0a0000"/><rect x="425.71" y="228.8" width="9.81" height="19.55" fill="#0a0000"/><rect x="435.52" y="228.8" width="9.81" height="19.55" fill="#0a0000"/><rect x="445.33" y="228.8" width="9.81" height="19.55" fill="#0a0000"/><rect x="455.14" y="228.8" width="9.81" height="19.55" fill="#0a0000"/><rect x="464.95" y="228.8" width="9.81" height="19.55" fill="#0a0000"/><rect x="474.76" y="228.8" width="9.81" height="19.55" fill="#0a0000"/><rect x="484.57" y="228.8" width="9.81" height="19.55" fill="#0a0000"/><rect x="494.38" y="228.8" width="9.81" height="19.55" fill="#0a0000"/><rect x="504.19" y="228.8" width="9.81" height="19.55" fill="#0a0000"/><rect x="514" y="228.8" width="9.81" height="19.55" fill="#0a0000"/><rect x="523.81" y="228.8" width="9.81" height="19.55" fill="#0a0000"/><rect x="533.62" y="228.8" width="9.81" height="19.55" fill="#0a0000"/><rect x="543.43" y="228.8" width="9.81" height="19.55" fill="#0a0000"/><rect x="553.24" y="228.8" width="9.81" height="19.55" fill="#0a0000"/><rect x="563.05" y="228.8" width="9.81" height="19.55" fill="#0a0000"/><rect x="572.86" y="228.8" width="9.81" height="19.55" fill="#0a0000"/><rect x="582.67" y="228.8" width="9.81" height="19.55" fill="#0a0000"/>
<rect x="121.6" y="248.35" width="9.81" height="19.55" fill="#0a0000"/><rect x="131.41" y="248.35" width="9.81" height="19.55" fill="#0a0000"/><rect x="141.22" y="248.35" width="9.81" height="19.55" fill="#d2d2d2"/><rect x="151.03" y="248.35" width="9.81" height="19.55" fill="#0a0000"/><rect x="160.84" y="248.35" width="9.81" height="19.55" fill="#ebebeb"/><rect x="170.65" y="248.35" width="9.81" height="19.55" fill="#0a0000"/><rect x="180.46" y="248.35" width="9.81" height="19.55" fill="#0a0000"/><rect x="190.27" y="248.35" width="9.81" height="19.55" fill="#0a0000"/><rect x="200.08" y="248.35" width="9.81" height="19.55" fill="#d2d2d2"/><rect x="209.89" y="248.35" width="9.81" height="19.55" fill="#d2d2d2"/><rect x="219.7" y="248.35" width="9.81" height="19.55" fill="#0a0000"/><rect x="229.51" y="248.35" width="9.81" height="19.55" fill="#0a0000"/><rect x="239.32" y="248.35" width="9.81" height="19.55" fill="#0a0000"/><rect x="249.13" y="248.35" width="9.81" height="19.55" fill="#d2d2d2"/><rect x="258.94" y="248.35" width="9.81" height="19.55" fill="#0a0000"/><rect x="268.75" y="248.35" width="9.81" height="19.55" fill="#0a0000"/><rect x="278.56" y="248.35" width="9.81" height="19.55" fill="#0a0000"/><rect x="288.37" y="248.35" width="9.81" height="19.55" fill="#0a0000"/><rect x="298.18" y="248.35" width="9.81" height="19.55" fill="#0a0000"/><rect x="307.99" y="248.35" width="9.81" height="19.55" fill="#0a0000"/><rect x="317.8" y="248.35" width="9.81" height="19.55" fill="#0a0000"/><rect x="327.61" y="248.35" width="9.81" height="19.55" fill="#0a0000"/><rect x="337.42" y="248.35" width="9.81" height="19.55" fill="#0a0000"/><rect x="347.23" y="248.35" width="9.81" height="19.55" fill="#0a0000"/><rect x="357.04" y="248.35" width="9.81" height="19.55" fill="#0a0000"/><rect x="366.85" y="248.35" width="9.81" height="19.55" fill="#0a0000"/><rect x="376.66" y="248.35" width="9.81" height="19.55" fill="#0a0000"/><rect x="386.47" y="248.35" width="9.81" height="19.55" fill="#0a0000"/><rect x="396.28" y="248.35" width="9.81" height="19.55" fill="#0a0000"/><rect x="406.09" y="248.35" width="9.81" height="19.55" fill="#0a0000"/><rect x="415.9" y="248.35" width="9.81" height="19.55" fill="#0a0000"/><rect x="425.71" y="248.35" width="9.81" height="19.55" fill="#0a0000"/><rect x="435.52" y="248.35" width="9.81" height="19.55" fill="#0a0000"/><rect x="445.33" y="248.35" width="9.81" height="19.55" fill="#0a0000"/><rect x="455.14" y="248.35" width="9.81" height="19.55" fill="#0a0000"/><rect x="464.95" y="248.35" width="9.81" height="19.55" fill="#0a0000"/><rect x="474.76" y="248.35" width="9.81" height="19.55" fill="#0a0000"/><rect x="484.57" y="248.35" width="9.81" height="19.55" fill="#0a0000"/><rect x="494.38" y="248.35" width="9.81" height="19.55" fill="#0a0000"/><rect x="504.19" y="248.35" width="9.81" height="19.55" fill="#0a0000"/><rect x="514" y="248.35" width="9.81" height="19.55" fill="#0a0000"/><rect x="523.81" y="248.35" width="9.81" height="19.55" fill="#0a0000"/><rect x="533.62" y="248.35" width="9.81" height="19.55" fill="#0a0000"/><rect x="543.43" y="248.35" width="9.81" height="19.55" fill="#0a0000"/><rect x="553.24" y="248.35" width="9.81" height="19.55" fill="#0a0000"/><rect x="563.05" y="248.35" width="9.81" height="19.55" fill="#0a0000"/><rect x="572.86" y="248.35" width="9.81" height="19.55" fill="#0a0000"/><rect x="582.67" y="248.35" width="9.81" height="19.55" fill="#0a0000"/>
<rect x="131.41" y="267.9" width="9.81" height="19.55" fill="#0a0000"/><rect x="141.22" y="267.9" width="9.81" height="19.55" fill="#0a0000"/><rect x="151.03" y="267.9" width="9.81" height="19.55" fill="#0a0000"/><rect x="160.84" y="267.9" width="9.81" height="19.55" fill="#0a0000"/><rect x="170.65" y="267.9" width="9.81" height="19.55" fill="#0a0000"/><rect x="180.46" y="267.9" width="9.81" height="19.55" fill="#0a0000"/><rect x="190.27" y="267.9" width="9.81" height="19.55" fill="#0a0000"/><rect x="200.08" y="267.9" width="9.81" height="19.55" fill="#ebebeb"/><rect x="209.89" y="267.9" width="9.81" height="19.55" fill="#ebebeb"/><rect x="219.7" y="267.9" width="9.81" height="19.55" fill="#c0c0c0"/><rect x="229.51" y="267.9" width="9.81" height="19.55" fill="#0a0000"/><rect x="239.32" y="267.9" width="9.81" height="19.55" fill="#0a0000"/><rect x="249.13" y="267.9" width="9.81" height="19.55" fill="#0a0000"/><rect x="258.94" y="267.9" width="9.81" height="19.55" fill="#0a0000"/><rect x="268.75" y="267.9" width="9.81" height="19.55" fill="#0a0000"/><rect x="278.56" y="267.9" width="9.81" height="19.55" fill="#0a0000"/><rect x="288.37" y="267.9" width="9.81" height="19.55" fill="#0a0000"/><rect x="298.18" y="267.9" width="9.81" height="19.55" fill="#0a0000"/><rect x="307.99" y="267.9" width="9.81" height="19.55" fill="#0a0000"/><rect x="317.8" y="267.9" width="9.81" height="19.55" fill="#0a0000"/><rect x="327.61" y="267.9" width="9.81" height="19.55" fill="#0a0000"/><rect x="337.42" y="267.9" width="9.81" height="19.55" fill="#0a0000"/><rect x="347.23" y="267.9" width="9.81" height="19.55" fill="#0a0000"/><rect x="357.04" y="267.9" width="9.81" height="19.55" fill="#0a0000"/><rect x="366.85" y="267.9" width="9.81" height="19.55" fill="#0a0000"/><rect x="376.66" y="267.9" width="9.81" height="19.55" fill="#0a0000"/><rect x="386.47" y="267.9" width="9.81" height="19.55" fill="#0a0000"/><rect x="396.28" y="267.9" width="9.81" height="19.55" fill="#0a0000"/><rect x="406.09" y="267.9" width="9.81" height="19.55" fill="#0a0000"/><rect x="415.9" y="267.9" width="9.81" height="19.55" fill="#0a0000"/><rect x="425.71" y="267.9" width="9.81" height="19.55" fill="#0a0000"/><rect x="435.52" y="267.9" width="9.81" height="19.55" fill="#0a0000"/><rect x="445.33" y="267.9" width="9.81" height="19.55" fill="#0a0000"/><rect x="455.14" y="267.9" width="9.81" height="19.55" fill="#0a0000"/><rect x="464.95" y="267.9" width="9.81" height="19.55" fill="#0a0000"/><rect x="474.76" y="267.9" width="9.81" height="19.55" fill="#0a0000"/><rect x="484.57" y="267.9" width="9.81" height="19.55" fill="#0a0000"/><rect x="494.38" y="267.9" width="9.81" height="19.55" fill="#0a0000"/><rect x="504.19" y="267.9" width="9.81" height="19.55" fill="#0a0000"/><rect x="514" y="267.9" width="9.81" height="19.55" fill="#0a0000"/><rect x="523.81" y="267.9" width="9.81" height="19.55" fill="#0a0000"/><rect x="533.62" y="267.9" width="9.81" height="19.55" fill="#0a0000"/><rect x="543.43" y="267.9" width="9.81" height="19.55" fill="#0a0000"/><rect x="553.24" y="267.9" width="9.81" height="19.55" fill="#0a0000"/><rect x="563.05" y="267.9" width="9.81" height="19.55" fill="#0a0000"/><rect x="572.86" y="267.9" width="9.81" height="19.55" fill="#0a0000"/><rect x="582.67" y="267.9" width="9.81" height="19.55" fill="#0a0000"/>
<rect x="121.6" y="287.45" width="9.81" height="19.55" fill="#0a0000"/><rect x="131.41" y="287.45" width="9.81" height="19.55" fill="#0a0000"/><rect x="141.22" y="287.45" width="9.81" height="19.55" fill="#d2d2d2"/><rect x="151.03" y="287.45" width="9.81" height="19.55" fill="#ffff90"/><rect x="160.84" y="287.45" width="9.81" height="19.55" fill="#ffff18"/><rect x="170.65" y="287.45" width="9.81" height="19.55" fill="#0a0000"/><rect x="180.46" y="287.45" width="9.81" height="19.55" fill="#ffff5c"/><rect x="190.27" y="287.45" width="9.81" height="19.55" fill="#0a0000"/><rect x="200.08" y="287.45" width="9.81" height="19.55" fill="#ffffbe"/><rect x="209.89" y="287.45" width="9.81" height="19.55" fill="#0a0000"/><rect x="219.7" y="287.45" width="9.81" height="19.55" fill="#ebebeb"/><rect x="229.51" y="287.45" width="9.81" height="19.55" fill="#0a0000"/><rect x="239.32" y="287.45" width="9.81" height="19.55" fill="#0a0000"/><rect x="249.13" y="287.45" width="9.81" height="19.55" fill="#0a0000"/><rect x="258.94" y="287.45" width="9.81" height="19.55" fill="#0a0000"/><rect x="268.75" y="287.45" width="9.81" height="19.55" fill="#0a0000"/><rect x="278.56" y="287.45" width="9.81" height="19.55" fill="#0a0000"/><rect x="288.37" y="287.45" width="9.81" height="19.55" fill="#0a0000"/><rect x="298.18" y="287.45" width="9.81" height="19.55" fill="#0a0000"/><rect x="307.99" y="287.45" width="9.81" height="19.55" fill="#0a0000"/><rect x="317.8" y="287.45" width="9.81" height="19.55" fill="#0a0000"/><rect x="327.61" y="287.45" width="9.81" height="19.55" fill="#fffffb"/><rect x="337.42" y="287.45" width="9.81" height="19.55" fill="#0a0000"/><rect x="347.23" y="287.45" width="9.81" height="19.55" fill="#0a0000"/><rect x="357.04" y="287.45" width="9.81" height="19.55" fill="#0a0000"/><rect x="366.85" y="287.45" width="9.81" height="19.55" fill="#0a0000"/><rect x="376.66" y="287.45" width="9.81" height="19.55" fill="#0a0000"/><rect x="386.47" y="287.45" width="9.81" height="19.55" fill="#0a0000"/><rect x="396.28" y="287.45" width="9.81" height="19.55" fill="#0a0000"/><rect x="406.09" y="287.45" width="9.81" height="19.55" fill="#0a0000"/><rect x="415.9" y="287.45" width="9.81" height="19.55" fill="#0a0000"/><rect x="425.71" y="287.45" width="9.81" height="19.55" fill="#0a0000"/><rect x="435.52" y="287.45" width="9.81" height="19.55" fill="#0a0000"/><rect x="445.33" y="287.45" width="9.81" height="19.55" fill="#0a0000"/><rect x="455.14" y="287.45" width="9.81" height="19.55" fill="#0a0000"/><rect x="464.95" y="287.45" width="9.81" height="19.55" fill="#0a0000"/><rect x="474.76" y="287.45" width="9.81" height="19.55" fill="#0a0000"/><rect x="484.57" y="287.45" width="9.81" height="19.55" fill="#0a0000"/><rect x="494.38" y="287.45" width="9.81" height="19.55" fill="#0a0000"/><rect x="504.19" y="287.45" width="9.81" height="19.55" fill="#0a0000"/><rect x="514" y="287.45" width="9.81" height="19.55" fill="#0a0000"/><rect x="523.81" y="287.45" width="9.81" height="19.55" fill="#0a0000"/><rect x="533.62" y="287.45" width="9.81" height="19.55" fill="#0a0000"/><rect x="543.43" y="287.45" width="9.81" height="19.55" fill="#0a0000"/><rect x="553.24" y="287.45" width="9.81" height="19.55" fill="#0a0000"/><rect x="563.05" y="287.45" width="9.81" height="19.55" fill="#0a0000"/><rect x="572.86" y="287.45" width="9.81" height="19.55" fill="#ffff90"/><rect x="582.67" y="287.45" width="9.81" height="19.55" fill="#0a0000"/>
<rect x="121.6" y="307" width="9.81" height="19.55" fill="#d2d2d2"/><rect x="131.41" y="307" width="9.81" height="19.55" fill="#0a0000"/><rect x="141.22" y="307" width="9.81" height="19.55" fill="#d2d2d2"/><rect x="151.03" y="307" width="9.81" height="19.55" fill="#0a0000"/><rect x="160.84" y="307" width="9.81" height="19.55" fill="#ffffbe"/><rect x="170.65" y="307" width="9.81" height="19.55" fill="#0a0000"/><rect x="180.46" y="307" width="9.81" height="19.55" fill="#ebebeb"/><rect x="190.27" y="307" width="9.81" height="19.55" fill="#0a0000"/><rect x="200.08" y="307" width="9.81" height="19.55" fill="#d2d2d2"/><rect x="209.89" y="307" width="9.81" height="19.55" fill="#0a0000"/><rect x="219.7" y="307" width="9.81" height="19.55" fill="#0a0000"/><rect x="229.51" y="307" width="9.81" height="19.55" fill="#0a0000"/><rect x="239.32" y="307" width="9.81" height="19.55" fill="#0a0000"/><rect x="249.13" y="307" width="9.81" height="19.55" fill="#0a0000"/><rect x="258.94" y="307" width="9.81" height="19.55" fill="#0a0000"/><rect x="268.75" y="307" width="9.81" height="19.55" fill="#0a0000"/><rect x="278.56" y="307" width="9.81" height="19.55" fill="#0a0000"/><rect x="288.37" y="307" width="9.81" height="19.55" fill="#0a0000"/><rect x="298.18" y="307" width="9.81" height="19.55" fill="#0a0000"/><rect x="307.99" y="307" width="9.81" height="19.55" fill="#0a0000"/><rect x="317.8" y="307" width="9.81" height="19.55" fill="#0a0000"/><rect x="327.61" y="307" width="9.81" height="19.55" fill="#ffff90"/><rect x="337.42" y="307" width="9.81" height="19.55" fill="#0a0000"/><rect x="347.23" y="307" width="9.81" height="19.55" fill="#0a0000"/><rect x="357.04" y="307" width="9.81" height="19.55" fill="#0a0000"/><rect x="366.85" y="307" width="9.81" height="19.55" fill="#0a0000"/><rect x="376.66" y="307" width="9.81" height="19.55" fill="#0a0000"/><rect x="386.47" y="307" width="9.81" height="19.55" fill="#0a0000"/><rect x="396.28" y="307" width="9.81" height="19.55" fill="#0a0000"/><rect x="406.09" y="307" width="9.81" height="19.55" fill="#0a0000"/><rect x="415.9" y="307" width="9.81" height="19.55" fill="#0a0000"/><rect x="425.71" y="307" width="9.81" height="19.55" fill="#0a0000"/><rect x="435.52" y="307" width="9.81" height="19.55" fill="#0a0000"/><rect x="445.33" y="307" width="9.81" height="19.55" fill="#0a0000"/><rect x="455.14" y="307" width="9.81" height="19.55" fill="#0a0000"/><rect x="464.95" y="307" width="9.81" height="19.55" fill="#0a0000"/><rect x="474.76" y="307" width="9.81" height="19.55" fill="#0a0000"/><rect x="484.57" y="307" width="9.81" height="19.55" fill="#0a0000"/><rect x="494.38" y="307" width="9.81" height="19.55" fill="#0a0000"/><rect x="504.19" y="307" width="9.81" height="19.55" fill="#0a0000"/><rect x="514" y="307" width="9.81" height="19.55" fill="#0a0000"/><rect x="523.81" y="307" width="9.81" height="19.55" fill="#0a0000"/><rect x="533.62" y="307" width="9.81" height="19.55" fill="#0a0000"/><rect x="543.43" y="307" width="9.81" height="19.55" fill="#0a0000"/><rect x="553.24" y="307" width="9.81" height="19.55" fill="#0a0000"/><rect x="563.05" y="307" width="9.81" height="19.55" fill="#0a0000"/><rect x="572.86" y="307" width="9.81" height="19.55" fill="#0a0000"/><rect x="582.67" y="307" width="9.81" height="19.55" fill="#0a0000"/>
<rect x="121.6" y="326.55" width="9.81" height="19.55" fill="#ffffbe"/><rect x="131.41" y="326.55" width="9.81" height="19.55" fill="#0a0000"/><rect x="141.22" y="326.55" width="9.81" height="19.55" fill="#ffffbe"/><rect x="151.03" y="326.55" width="9.81" height="19.55" fill="#ffffbe"/><rect x="160.84" y="326.55" width="9.81" height="19.55" fill="#d2d2d2"/><rect x="170.65" y="326.55" width="9.81" height="19.55" fill="#ebebeb"/><rect x="180.46" y="326.55" width="9.81" height="19.55" fill="#fffffb"/><rect x="190.27" y="326.55" width="9.81" height="19.55" fill="#d2d2d2"/><rect x="200.08" y="326.55" width="9.81" height="19.55" fill="#d2d2d2"/><rect x="209.89" y="326.55" width="9.81" height="19.55" fill="#c0c0c0"/><rect x="219.7" y="326.55" width="9.81" height="19.55" fill="#ebebeb"/><rect x="229.51" y="326.55" width="9.81" height="19.55" fill="#0a0000"/><rect x="239.32" y="326.55" width="9.81" height="19.55" fill="#0a0000"/><rect x="249.13" y="326.55" width="9.81" height="19.55" fill="#0a0000"/><rect x="258.94" y="326.55" width="9.81" height="19.55" fill="#0a0000"/><rect x="268.75" y="326.55" width="9.81" height="19.55" fill="#0a0000"/><rect x="278.56" y="326.55" width="9.81" height="19.55" fill="#0a0000"/><rect x="288.37" y="326.55" width="9.81" height="19.55" fill="#ffff90"/><rect x="298.18" y="326.55" width="9.81" height="19.55" fill="#0a0000"/><rect x="307.99" y="326.55" width="9.81" height="19.55" fill="#ffffbe"/><rect x="317.8" y="326.55" width="9.81" height="19.55" fill="#fffffb"/><rect x="327.61" y="326.55" width="9.81" height="19.55" fill="#ffffbe"/><rect x="337.42" y="326.55" width="9.81" height="19.55" fill="#d2d2d2"/><rect x="347.23" y="326.55" width="9.81" height="19.55" fill="#0a0000"/><rect x="357.04" y="326.55" width="9.81" height="19.55" fill="#0a0000"/><rect x="366.85" y="326.55" width="9.81" height="19.55" fill="#fffffb"/><rect x="376.66" y="326.55" width="9.81" height="19.55" fill="#0a0000"/><rect x="386.47" y="326.55" width="9.81" height="19.55" fill="#0a0000"/><rect x="396.28" y="326.55" width="9.81" height="19.55" fill="#0a0000"/><rect x="406.09" y="326.55" width="9.81" height="19.55" fill="#0a0000"/><rect x="415.9" y="326.55" width="9.81" height="19.55" fill="#0a0000"/><rect x="425.71" y="326.55" width="9.81" height="19.55" fill="#0a0000"/><rect x="435.52" y="326.55" width="9.81" height="19.55" fill="#0a0000"/><rect x="445.33" y="326.55" width="9.81" height="19.55" fill="#0a0000"/><rect x="455.14" y="326.55" width="9.81" height="19.55" fill="#0a0000"/><rect x="464.95" y="326.55" width="9.81" height="19.55" fill="#0a0000"/><rect x="474.76" y="326.55" width="9.81" height="19.55" fill="#0a0000"/><rect x="484.57" y="326.55" width="9.81" height="19.55" fill="#ffff5c"/><rect x="494.38" y="326.55" width="9.81" height="19.55" fill="#0a0000"/><rect x="504.19" y="326.55" width="9.81" height="19.55" fill="#ffffbe"/><rect x="514" y="326.55" width="9.81" height="19.55" fill="#0a0000"/><rect x="523.81" y="326.55" width="9.81" height="19.55" fill="#0a0000"/><rect x="533.62" y="326.55" width="9.81" height="19.55" fill="#0a0000"/><rect x="543.43" y="326.55" width="9.81" height="19.55" fill="#0a0000"/><rect x="553.24" y="326.55" width="9.81" height="19.55" fill="#0a0000"/><rect x="563.05" y="326.55" width="9.81" height="19.55" fill="#0a0000"/><rect x="572.86" y="326.55" width="9.81" height="19.55" fill="#ffff90"/><rect x="582.67" y="326.55" width="9.81" height="19.55" fill="#0a0000"/>
<rect x="121.6" y="346.1" width="9.81" height="19.55" fill="#ffffbe"/><rect x="131.41" y="346.1" width="9.81" height="19.55" fill="#0a0000"/><rect x="141.22" y="346.1" width="9.81" height="19.55" fill="#d2d2d2"/><rect x="151.03" y="346.1" width="9.81" height="19.55" fill="#0a0000"/><rect x="160.84" y="346.1" width="9.81" height="19.55" fill="#ffffbe"/><rect x="170.65" y="346.1" width="9.81" height="19.55" fill="#ebebeb"/><rect x="180.46" y="346.1" width="9.81" height="19.55" fill="#ffffbe"/><rect x="190.27" y="346.1" width="9.81" height="19.55" fill="#ffff90"/><rect x="200.08" y="346.1" width="9.81" height="19.55" fill="#ffff5c"/><rect x="209.89" y="346.1" width="9.81" height="19.55" fill="#ffffbe"/><rect x="219.7" y="346.1" width="9.81" height="19.55" fill="#ffff90"/><rect x="229.51" y="346.1" width="9.81" height="19.55" fill="#0a0000"/><rect x="239.32" y="346.1" width="9.81" height="19.55" fill="#0a0000"/><rect x="249.13" y="346.1" width="9.81" height="19.55" fill="#fffffb"/><rect x="258.94" y="346.1" width="9.81" height="19.55" fill="#0a0000"/><rect x="268.75" y="346.1" width="9.81" height="19.55" fill="#ffffbe"/><rect x="278.56" y="346.1" width="9.81" height="19.55" fill="#0a0000"/><rect x="288.37" y="346.1" width="9.81" height="19.55" fill="#ffff5c"/><rect x="298.18" y="346.1" width="9.81" height="19.55" fill="#0a0000"/><rect x="307.99" y="346.1" width="9.81" height="19.55" fill="#0a0000"/><rect x="317.8" y="346.1" width="9.81" height="19.55" fill="#ffff90"/><rect x="327.61" y="346.1" width="9.81" height="19.55" fill="#ffffbe"/><rect x="337.42" y="346.1" width="9.81" height="19.55" fill="#ffffbe"/><rect x="347.23" y="346.1" width="9.81" height="19.55" fill="#ebebeb"/><rect x="357.04" y="346.1" width="9.81" height="19.55" fill="#ffffbe"/><rect x="366.85" y="346.1" width="9.81" height="19.55" fill="#fffffb"/><rect x="376.66" y="346.1" width="9.81" height="19.55" fill="#fffffb"/><rect x="386.47" y="346.1" width="9.81" height="19.55" fill="#0a0000"/><rect x="396.28" y="346.1" width="9.81" height="19.55" fill="#0a0000"/><rect x="406.09" y="346.1" width="9.81" height="19.55" fill="#0a0000"/><rect x="415.9" y="346.1" width="9.81" height="19.55" fill="#0a0000"/><rect x="425.71" y="346.1" width="9.81" height="19.55" fill="#d2d2d2"/><rect x="435.52" y="346.1" width="9.81" height="19.55" fill="#0a0000"/><rect x="445.33" y="346.1" width="9.81" height="19.55" fill="#0a0000"/><rect x="455.14" y="346.1" width="9.81" height="19.55" fill="#0a0000"/><rect x="464.95" y="346.1" width="9.81" height="19.55" fill="#ffff5c"/><rect x="474.76" y="346.1" width="9.81" height="19.55" fill="#0a0000"/><rect x="484.57" y="346.1" width="9.81" height="19.55" fill="#0a0000"/><rect x="494.38" y="346.1" width="9.81" height="19.55" fill="#0a0000"/><rect x="504.19" y="346.1" width="9.81" height="19.55" fill="#0a0000"/><rect x="514" y="346.1" width="9.81" height="19.55" fill="#0a0000"/><rect x="523.81" y="346.1" width="9.81" height="19.55" fill="#0a0000"/><rect x="533.62" y="346.1" width="9.81" height="19.55" fill="#0a0000"/><rect x="543.43" y="346.1" width="9.81" height="19.55" fill="#0a0000"/><rect x="553.24" y="346.1" width="9.81" height="19.55" fill="#0a0000"/><rect x="563.05" y="346.1" width="9.81" height="19.55" fill="#0a0000"/><rect x="572.86" y="346.1" width="9.81" height="19.55" fill="#ffff90"/><rect x="582.67" y="346.1" width="9.81" height="19.55" fill="#0a0000"/>
<rect x="121.6" y="365.65" width="9.81" height="19.55" fill="#ffff18"/><rect x="131.41" y="365.65" width="9.81" height="19.55" fill="#0a0000"/><rect x="141.22" y="365.65" width="9.81" height="19.55" fill="#0a0000"/><rect x="151.03" y="365.65" width="9.81" height="19.55" fill="#0a0000"/><rect x="160.84" y="365.65" width="9.81" height="19.55" fill="#0a0000"/><rect x="170.65" y="365.65" width="9.81" height="19.55" fill="#ffff18"/><rect x="180.46" y="365.65" width="9.81" height="19.55" fill="#ffff5c"/><rect x="190.27" y="365.65" width="9.81" height="19.55" fill="#ffff5c"/><rect x="200.08" y="365.65" width="9.81" height="19.55" fill="#fffffb"/><rect x="209.89" y="365.65" width="9.81" height="19.55" fill="#ffffbe"/><rect x="219.7" y="365.65" width="9.81" height="19.55" fill="#ffff5c"/><rect x="229.51" y="365.65" width="9.81" height="19.55" fill="#0a0000"/><rect x="239.32" y="365.65" width="9.81" height="19.55" fill="#0a0000"/><rect x="249.13" y="365.65" width="9.81" height="19.55" fill="#ffff90"/><rect x="258.94" y="365.65" width="9.81" height="19.55" fill="#0a0000"/><rect x="268.75" y="365.65" width="9.81" height="19.55" fill="#0a0000"/><rect x="278.56" y="365.65" width="9.81" height="19.55" fill="#0a0000"/><rect x="288.37" y="365.65" width="9.81" height="19.55" fill="#ffffbe"/><rect x="298.18" y="365.65" width="9.81" height="19.55" fill="#0a0000"/><rect x="307.99" y="365.65" width="9.81" height="19.55" fill="#0a0000"/><rect x="317.8" y="365.65" width="9.81" height="19.55" fill="#0a0000"/><rect x="327.61" y="365.65" width="9.81" height="19.55" fill="#ffff90"/><rect x="337.42" y="365.65" width="9.81" height="19.55" fill="#ffffbe"/><rect x="347.23" y="365.65" width="9.81" height="19.55" fill="#0a0000"/><rect x="357.04" y="365.65" width="9.81" height="19.55" fill="#0a0000"/><rect x="366.85" y="365.65" width="9.81" height="19.55" fill="#0a0000"/><rect x="376.66" y="365.65" width="9.81" height="19.55" fill="#ffff5c"/><rect x="386.47" y="365.65" width="9.81" height="19.55" fill="#0a0000"/><rect x="396.28" y="365.65" width="9.81" height="19.55" fill="#0a0000"/><rect x="406.09" y="365.65" width="9.81" height="19.55" fill="#0a0000"/><rect x="415.9" y="365.65" width="9.81" height="19.55" fill="#0a0000"/><rect x="425.71" y="365.65" width="9.81" height="19.55" fill="#0a0000"/><rect x="435.52" y="365.65" width="9.81" height="19.55" fill="#0a0000"/><rect x="445.33" y="365.65" width="9.81" height="19.55" fill="#0a0000"/><rect x="455.14" y="365.65" width="9.81" height="19.55" fill="#0a0000"/><rect x="464.95" y="365.65" width="9.81" height="19.55" fill="#0a0000"/><rect x="474.76" y="365.65" width="9.81" height="19.55" fill="#0a0000"/><rect x="484.57" y="365.65" width="9.81" height="19.55" fill="#0a0000"/><rect x="494.38" y="365.65" width="9.81" height="19.55" fill="#0a0000"/><rect x="504.19" y="365.65" width="9.81" height="19.55" fill="#0a0000"/><rect x="514" y="365.65" width="9.81" height="19.55" fill="#0a0000"/><rect x="523.81" y="365.65" width="9.81" height="19.55" fill="#0a0000"/><rect x="533.62" y="365.65" width="9.81" height="19.55" fill="#0a0000"/><rect x="543.43" y="365.65" width="9.81" height="19.55" fill="#0a0000"/><rect x="553.24" y="365.65" width="9.81" height="19.55" fill="#0a0000"/><rect x="563.05" y="365.65" width="9.81" height="19.55" fill="#0a0000"/><rect x="572.86" y="365.65" width="9.81" height="19.55" fill="#ffff5c"/><rect x="582.67" y="365.65" width="9.81" height="19.55" fill="#0a0000"/>
<rect x="121.6" y="385.2" width="9.81" height="19.55" fill="#ffff18"/><rect x="131.41" y="385.2" width="9.81" height="19.55" fill="#0a0000"/><rect x="141.22" y="385.2" width="9.81" height="19.55" fill="#d2d2d2"/><rect x="151.03" y="385.2" width="9.81" height="19.55" fill="#ffc800"/><rect x="160.84" y="385.2" width="9.81" height="19.55" fill="#ffff5c"/><rect x="170.65" y="385.2" width="9.81" height="19.55" fill="#fffffb"/><rect x="180.46" y="385.2" width="9.81" height="19.55" fill="#ffff90"/><rect x="190.27" y="385.2" width="9.81" height="19.55" fill="#d2d2d2"/><rect x="200.08" y="385.2" width="9.81" height="19.55" fill="#0a0000"/><rect x="209.89" y="385.2" width="9.81" height="19.55" fill="#c0c0c0"/><rect x="219.7" y="385.2" width="9.81" height="19.55" fill="#ffff5c"/><rect x="229.51" y="385.2" width="9.81" height="19.55" fill="#0a0000"/><rect x="239.32" y="385.2" width="9.81" height="19.55" fill="#ffff18"/><rect x="249.13" y="385.2" width="9.81" height="19.55" fill="#0a0000"/><rect x="258.94" y="385.2" width="9.81" height="19.55" fill="#0a0000"/><rect x="268.75" y="385.2" width="9.81" height="19.55" fill="#ebebeb"/><rect x="278.56" y="385.2" width="9.81" height="19.55" fill="#0a0000"/><rect x="288.37" y="385.2" width="9.81" height="19.55" fill="#0a0000"/><rect x="298.18" y="385.2" width="9.81" height="19.55" fill="#0a0000"/><rect x="307.99" y="385.2" width="9.81" height="19.55" fill="#0a0000"/><rect x="317.8" y="385.2" width="9.81" height="19.55" fill="#0a0000"/><rect x="327.61" y="385.2" width="9.81" height="19.55" fill="#ffffbe"/><rect x="337.42" y="385.2" width="9.81" height="19.55" fill="#d2d2d2"/><rect x="347.23" y="385.2" width="9.81" height="19.55" fill="#ffff18"/><rect x="357.04" y="385.2" width="9.81" height="19.55" fill="#ebebeb"/><rect x="366.85" y="385.2" width="9.81" height="19.55" fill="#0a0000"/><rect x="376.66" y="385.2" width="9.81" height="19.55" fill="#0a0000"/><rect x="386.47" y="385.2" width="9.81" height="19.55" fill="#0a0000"/><rect x="396.28" y="385.2" width="9.81" height="19.55" fill="#0a0000"/><rect x="406.09" y="385.2" width="9.81" height="19.55" fill="#0a0000"/><rect x="415.9" y="385.2" width="9.81" height="19.55" fill="#0a0000"/><rect x="425.71" y="385.2" width="9.81" height="19.55" fill="#0a0000"/><rect x="435.52" y="385.2" width="9.81" height="19.55" fill="#0a0000"/><rect x="445.33" y="385.2" width="9.81" height="19.55" fill="#0a0000"/><rect x="455.14" y="385.2" width="9.81" height="19.55" fill="#0a0000"/><rect x="464.95" y="385.2" width="9.81" height="19.55" fill="#0a0000"/><rect x="474.76" y="385.2" width="9.81" height="19.55" fill="#0a0000"/><rect x="484.57" y="385.2" width="9.81" height="19.55" fill="#0a0000"/><rect x="494.38" y="385.2" width="9.81" height="19.55" fill="#0a0000"/><rect x="504.19" y="385.2" width="9.81" height="19.55" fill="#ffc800"/><rect x="514" y="385.2" width="9.81" height="19.55" fill="#0a0000"/><rect x="523.81" y="385.2" width="9.81" height="19.55" fill="#0a0000"/><rect x="533.62" y="385.2" width="9.81" height="19.55" fill="#0a0000"/><rect x="543.43" y="385.2" width="9.81" height="19.55" fill="#0a0000"/><rect x="553.24" y="385.2" width="9.81" height="19.55" fill="#0a0000"/><rect x="563.05" y="385.2" width="9.81" height="19.55" fill="#ffffbe"/><rect x="572.86" y="385.2" width="9.81" height="19.55" fill="#0a0000"/><rect x="582.67" y="385.2" width="9.81" height="19.55" fill="#0a0000"/>
<rect x="121.6" y="404.75" width="9.81" height="19.55" fill="#ffff5c"/><rect x="131.41" y="404.75" width="9.81" height="19.55" fill="#ffff5c"/><rect x="141.22" y="404.75" width="9.81" height="19.55" fill="#fffffb"/><rect x="151.03" y="404.75" width="9.81" height="19.55" fill="#ffff5c"/><rect x="160.84" y="404.75" width="9.81" height="19.55" fill="#ffffbe"/><rect x="170.65" y="404.75" width="9.81" height="19.55" fill="#ffff90"/><rect x="180.46" y="404.75" width="9.81" height="19.55" fill="#ffff90"/><rect x="190.27" y="404.75" width="9.81" height="19.55" fill="#ffffbe"/><rect x="200.08" y="404.75" width="9.81" height="19.55" fill="#ffff90"/><rect x="209.89" y="404.75" width="9.81" height="19.55" fill="#ffff5c"/><rect x="219.7" y="404.75" width="9.81" height="19.55" fill="#ffff5c"/><rect x="229.51" y="404.75" width="9.81" height="19.55" fill="#0a0000"/><rect x="239.32" y="404.75" width="9.81" height="19.55" fill="#ffff5c"/><rect x="249.13" y="404.75" width="9.81" height="19.55" fill="#c0c0c0"/><rect x="258.94" y="404.75" width="9.81" height="19.55" fill="#d2d2d2"/><rect x="268.75" y="404.75" width="9.81" height="19.55" fill="#0a0000"/><rect x="278.56" y="404.75" width="9.81" height="19.55" fill="#0a0000"/><rect x="288.37" y="404.75" width="9.81" height="19.55" fill="#ffffbe"/><rect x="298.18" y="404.75" width="9.81" height="19.55" fill="#0a0000"/><rect x="307.99" y="404.75" width="9.81" height="19.55" fill="#ffffbe"/><rect x="317.8" y="404.75" width="9.81" height="19.55" fill="#0a0000"/><rect x="327.61" y="404.75" width="9.81" height="19.55" fill="#fffffb"/><rect x="337.42" y="404.75" width="9.81" height="19.55" fill="#ffff5c"/><rect x="347.23" y="404.75" width="9.81" height="19.55" fill="#0a0000"/><rect x="357.04" y="404.75" width="9.81" height="19.55" fill="#ffff5c"/><rect x="366.85" y="404.75" width="9.81" height="19.55" fill="#ffff90"/><rect x="376.66" y="404.75" width="9.81" height="19.55" fill="#0a0000"/><rect x="386.47" y="404.75" width="9.81" height="19.55" fill="#0a0000"/><rect x="396.28" y="404.75" width="9.81" height="19.55" fill="#d2d2d2"/><rect x="406.09" y="404.75" width="9.81" height="19.55" fill="#ffffbe"/><rect x="415.9" y="404.75" width="9.81" height="19.55" fill="#ffff18"/><rect x="425.71" y="404.75" width="9.81" height="19.55" fill="#d2d2d2"/><rect x="435.52" y="404.75" width="9.81" height="19.55" fill="#0a0000"/><rect x="445.33" y="404.75" width="9.81" height="19.55" fill="#0a0000"/><rect x="455.14" y="404.75" width="9.81" height="19.55" fill="#0a0000"/><rect x="464.95" y="404.75" width="9.81" height="19.55" fill="#0a0000"/><rect x="474.76" y="404.75" width="9.81" height="19.55" fill="#0a0000"/><rect x="484.57" y="404.75" width="9.81" height="19.55" fill="#0a0000"/><rect x="494.38" y="404.75" width="9.81" height="19.55" fill="#ffff18"/><rect x="504.19" y="404.75" width="9.81" height="19.55" fill="#0a0000"/><rect x="514" y="404.75" width="9.81" height="19.55" fill="#0a0000"/><rect x="523.81" y="404.75" width="9.81" height="19.55" fill="#0a0000"/><rect x="533.62" y="404.75" width="9.81" height="19.55" fill="#0a0000"/><rect x="543.43" y="404.75" width="9.81" height="19.55" fill="#0a0000"/><rect x="553.24" y="404.75" width="9.81" height="19.55" fill="#0a0000"/><rect x="563.05" y="404.75" width="9.81" height="19.55" fill="#0a0000"/><rect x="572.86" y="404.75" width="9.81" height="19.55" fill="#0a0000"/><rect x="582.67" y="404.75" width="9.81" height="19.55" fill="#0a0000"/>
<rect x="121.6" y="424.3" width="9.81" height="19.55" fill="#ffff5c"/><rect x="131.41" y="424.3" width="9.81" height="19.55" fill="#ffff5c"/><rect x="141.22" y="424.3" width="9.81" height="19.55" fill="#ffff18"/><rect x="151.03" y="424.3" width="9.81" height="19.55" fill="#ffff18"/><rect x="160.84" y="424.3" width="9.81" height="19.55" fill="#ffff5c"/><rect x="170.65" y="424.3" width="9.81" height="19.55" fill="#ffffbe"/><rect x="180.46" y="424.3" width="9.81" height="19.55" fill="#ffff5c"/><rect x="190.27" y="424.3" width="9.81" height="19.55" fill="#ffff5c"/><rect x="200.08" y="424.3" width="9.81" height="19.55" fill="#ffff90"/><rect x="209.89" y="424.3" width="9.81" height="19.55" fill="#ffff90"/><rect x="219.7" y="424.3" width="9.81" height="19.55" fill="#ffff5c"/><rect x="229.51" y="424.3" width="9.81" height="19.55" fill="#c0c0c0"/><rect x="239.32" y="424.3" width="9.81" height="19.55" fill="#ffff5c"/><rect x="249.13" y="424.3" width="9.81" height="19.55" fill="#ffff5c"/><rect x="258.94" y="424.3" width="9.81" height="19.55" fill="#ebebeb"/><rect x="268.75" y="424.3" width="9.81" height="19.55" fill="#0a0000"/><rect x="278.56" y="424.3" width="9.81" height="19.55" fill="#0a0000"/><rect x="288.37" y="424.3" width="9.81" height="19.55" fill="#ffff90"/><rect x="298.18" y="424.3" width="9.81" height="19.55" fill="#ffff90"/><rect x="307.99" y="424.3" width="9.81" height="19.55" fill="#ffff5c"/><rect x="317.8" y="424.3" width="9.81" height="19.55" fill="#ffff5c"/><rect x="327.61" y="424.3" width="9.81" height="19.55" fill="#ffff90"/><rect x="337.42" y="424.3" width="9.81" height="19.55" fill="#ffffbe"/><rect x="347.23" y="424.3" width="9.81" height="19.55" fill="#0a0000"/><rect x="357.04" y="424.3" width="9.81" height="19.55" fill="#ffff5c"/><rect x="366.85" y="424.3" width="9.81" height="19.55" fill="#ffff90"/><rect x="376.66" y="424.3" width="9.81" height="19.55" fill="#ffff90"/><rect x="386.47" y="424.3" width="9.81" height="19.55" fill="#0a0000"/><rect x="396.28" y="424.3" width="9.81" height="19.55" fill="#0a0000"/><rect x="406.09" y="424.3" width="9.81" height="19.55" fill="#ffff18"/><rect x="415.9" y="424.3" width="9.81" height="19.55" fill="#ffff5c"/><rect x="425.71" y="424.3" width="9.81" height="19.55" fill="#ffff5c"/><rect x="435.52" y="424.3" width="9.81" height="19.55" fill="#0a0000"/><rect x="445.33" y="424.3" width="9.81" height="19.55" fill="#0a0000"/><rect x="455.14" y="424.3" width="9.81" height="19.55" fill="#0a0000"/><rect x="464.95" y="424.3" width="9.81" height="19.55" fill="#ffff5c"/><rect x="474.76" y="424.3" width="9.81" height="19.55" fill="#fffffb"/><rect x="484.57" y="424.3" width="9.81" height="19.55" fill="#ffff90"/><rect x="494.38" y="424.3" width="9.81" height="19.55" fill="#0a0000"/><rect x="504.19" y="424.3" width="9.81" height="19.55" fill="#ffff90"/><rect x="514" y="424.3" width="9.81" height="19.55" fill="#ffff90"/><rect x="523.81" y="424.3" width="9.81" height="19.55" fill="#0a0000"/><rect x="533.62" y="424.3" width="9.81" height="19.55" fill="#0a0000"/><rect x="543.43" y="424.3" width="9.81" height="19.55" fill="#0a0000"/><rect x="553.24" y="424.3" width="9.81" height="19.55" fill="#0a0000"/><rect x="563.05" y="424.3" width="9.81" height="19.55" fill="#ffffbe"/><rect x="572.86" y="424.3" width="9.81" height="19.55" fill="#ffff18"/><rect x="582.67" y="424.3" width="9.81" height="19.55" fill="#0a0000"/>
<rect x="121.6" y="443.85" width="9.81" height="19.55" fill="#ffff5c"/><rect x="131.41" y="443.85" width="9.81" height="19.55" fill="#0a0000"/><rect x="141.22" y="443.85" width="9.81" height="19.55" fill="#d2d2d2"/><rect x="151.03" y="443.85" width="9.81" height="19.55" fill="#ff8400"/><rect x="160.84" y="443.85" width="9.81" height="19.55" fill="#ff8400"/><rect x="170.65" y="443.85" width="9.81" height="19.55" fill="#ffff18"/><rect x="180.46" y="443.85" width="9.81" height="19.55" fill="#ffff18"/><rect x="190.27" y="443.85" width="9.81" height="19.55" fill="#ffff5c"/><rect x="200.08" y="443.85" width="9.81" height="19.55" fill="#ffff18"/><rect x="209.89" y="443.85" width="9.81" height="19.55" fill="#ffff5c"/><rect x="219.7" y="443.85" width="9.81" height="19.55" fill="#ffff5c"/><rect x="229.51" y="443.85" width="9.81" height="19.55" fill="#c0c0c0"/><rect x="239.32" y="443.85" width="9.81" height="19.55" fill="#ffff5c"/><rect x="249.13" y="443.85" width="9.81" height="19.55" fill="#ffff18"/><rect x="258.94" y="443.85" width="9.81" height="19.55" fill="#d2d2d2"/><rect x="268.75" y="443.85" width="9.81" height="19.55" fill="#0a0000"/><rect x="278.56" y="443.85" width="9.81" height="19.55" fill="#0a0000"/><rect x="288.37" y="443.85" width="9.81" height="19.55" fill="#ffff90"/><rect x="298.18" y="443.85" width="9.81" height="19.55" fill="#0a0000"/><rect x="307.99" y="443.85" width="9.81" height="19.55" fill="#ffff90"/><rect x="317.8" y="443.85" width="9.81" height="19.55" fill="#ffffbe"/><rect x="327.61" y="443.85" width="9.81" height="19.55" fill="#ffff5c"/><rect x="337.42" y="443.85" width="9.81" height="19.55" fill="#ffff90"/><rect x="347.23" y="443.85" width="9.81" height="19.55" fill="#0a0000"/><rect x="357.04" y="443.85" width="9.81" height="19.55" fill="#0a0000"/><rect x="366.85" y="443.85" width="9.81" height="19.55" fill="#ffff90"/><rect x="376.66" y="443.85" width="9.81" height="19.55" fill="#ffff5c"/><rect x="386.47" y="443.85" width="9.81" height="19.55" fill="#0a0000"/><rect x="396.28" y="443.85" width="9.81" height="19.55" fill="#0a0000"/><rect x="406.09" y="443.85" width="9.81" height="19.55" fill="#ffff18"/><rect x="415.9" y="443.85" width="9.81" height="19.55" fill="#ffffbe"/><rect x="425.71" y="443.85" width="9.81" height="19.55" fill="#ffff90"/><rect x="435.52" y="443.85" width="9.81" height="19.55" fill="#0a0000"/><rect x="445.33" y="443.85" width="9.81" height="19.55" fill="#0a0000"/><rect x="455.14" y="443.85" width="9.81" height="19.55" fill="#0a0000"/><rect x="464.95" y="443.85" width="9.81" height="19.55" fill="#ffff5c"/><rect x="474.76" y="443.85" width="9.81" height="19.55" fill="#0a0000"/><rect x="484.57" y="443.85" width="9.81" height="19.55" fill="#0a0000"/><rect x="494.38" y="443.85" width="9.81" height="19.55" fill="#0a0000"/><rect x="504.19" y="443.85" width="9.81" height="19.55" fill="#ffff5c"/><rect x="514" y="443.85" width="9.81" height="19.55" fill="#0a0000"/><rect x="523.81" y="443.85" width="9.81" height="19.55" fill="#0a0000"/><rect x="533.62" y="443.85" width="9.81" height="19.55" fill="#0a0000"/><rect x="543.43" y="443.85" width="9.81" height="19.55" fill="#0a0000"/><rect x="553.24" y="443.85" width="9.81" height="19.55" fill="#0a0000"/><rect x="563.05" y="443.85" width="9.81" height="19.55" fill="#0a0000"/><rect x="572.86" y="443.85" width="9.81" height="19.55" fill="#ffff5c"/><rect x="582.67" y="443.85" width="9.81" height="19.55" fill="#0a0000"/>
<rect x="121.6" y="463.4" width="9.81" height="19.55" fill="#ffff18"/><rect x="131.41" y="463.4" width="9.81" height="19.55" fill="#ffff5c"/><rect x="141.22" y="463.4" width="9.81" height="19.55" fill="#ffc800"/><rect x="151.03" y="463.4" width="9.81" height="19.55" fill="#ff5200"/><rect x="160.84" y="463.4" width="9.81" height="19.55" fill="#ff5200"/><rect x="170.65" y="463.4" width="9.81" height="19.55" fill="#ffc800"/><rect x="180.46" y="463.4" width="9.81" height="19.55" fill="#ffff18"/><rect x="190.27" y="463.4" width="9.81" height="19.55" fill="#ffff18"/><rect x="200.08" y="463.4" width="9.81" height="19.55" fill="#ffff18"/><rect x="209.89" y="463.4" width="9.81" height="19.55" fill="#ffff5c"/><rect x="219.7" y="463.4" width="9.81" height="19.55" fill="#ffff18"/><rect x="229.51" y="463.4" width="9.81" height="19.55" fill="#ffff90"/><rect x="239.32" y="463.4" width="9.81" height="19.55" fill="#ff8400"/><rect x="249.13" y="463.4" width="9.81" height="19.55" fill="#ffff5c"/><rect x="258.94" y="463.4" width="9.81" height="19.55" fill="#fffffb"/><rect x="268.75" y="463.4" width="9.81" height="19.55" fill="#ffff18"/><rect x="278.56" y="463.4" width="9.81" height="19.55" fill="#0a0000"/><rect x="288.37" y="463.4" width="9.81" height="19.55" fill="#ffffbe"/><rect x="298.18" y="463.4" width="9.81" height="19.55" fill="#ffff5c"/><rect x="307.99" y="463.4" width="9.81" height="19.55" fill="#ffc800"/><rect x="317.8" y="463.4" width="9.81" height="19.55" fill="#ffff18"/><rect x="327.61" y="463.4" width="9.81" height="19.55" fill="#ffff18"/><rect x="337.42" y="463.4" width="9.81" height="19.55" fill="#ffff5c"/><rect x="347.23" y="463.4" width="9.81" height="19.55" fill="#0a0000"/><rect x="357.04" y="463.4" width="9.81" height="19.55" fill="#ffff5c"/><rect x="366.85" y="463.4" width="9.81" height="19.55" fill="#ffff18"/><rect x="376.66" y="463.4" width="9.81" height="19.55" fill="#ffff5c"/><rect x="386.47" y="463.4" width="9.81" height="19.55" fill="#ffff90"/><rect x="396.28" y="463.4" width="9.81" height="19.55" fill="#0a0000"/><rect x="406.09" y="463.4" width="9.81" height="19.55" fill="#ffa200"/><rect x="415.9" y="463.4" width="9.81" height="19.55" fill="#ffff18"/><rect x="425.71" y="463.4" width="9.81" height="19.55" fill="#ffff90"/><rect x="435.52" y="463.4" width="9.81" height="19.55" fill="#ffffbe"/><rect x="445.33" y="463.4" width="9.81" height="19.55" fill="#ffffbe"/><rect x="455.14" y="463.4" width="9.81" height="19.55" fill="#0a0000"/><rect x="464.95" y="463.4" width="9.81" height="19.55" fill="#ffff18"/><rect x="474.76" y="463.4" width="9.81" height="19.55" fill="#ffff5c"/><rect x="484.57" y="463.4" width="9.81" height="19.55" fill="#ffffbe"/><rect x="494.38" y="463.4" width="9.81" height="19.55" fill="#0a0000"/><rect x="504.19" y="463.4" width="9.81" height="19.55" fill="#ffff18"/><rect x="514" y="463.4" width="9.81" height="19.55" fill="#ffff5c"/><rect x="523.81" y="463.4" width="9.81" height="19.55" fill="#0a0000"/><rect x="533.62" y="463.4" width="9.81" height="19.55" fill="#0a0000"/><rect x="543.43" y="463.4" width="9.81" height="19.55" fill="#ebebeb"/><rect x="553.24" y="463.4" width="9.81" height="19.55" fill="#0a0000"/><rect x="563.05" y="463.4" width="9.81" height="19.55" fill="#ffffbe"/><rect x="572.86" y="463.4" width="9.81" height="19.55" fill="#ffff18"/><rect x="582.67" y="463.4" width="9.81" height="19.55" fill="#0a0000"/>
<rect x="121.6" y="482.95" width="9.81" height="19.55" fill="#c0c0c0"/><rect x="131.41" y="482.95" width="9.81" height="19.55" fill="#c0c0c0"/><rect x="141.22" y="482.95" width="9.81" height="19.55" fill="#ebebeb"/><rect x="151.03" y="482.95" width="9.81" height="19.55" fill="#ffff5c"/><rect x="160.84" y="482.95" width="9.81" height="19.55" fill="#fffffb"/><rect x="170.65" y="482.95" width="9.81" height="19.55" fill="#d2d2d2"/><rect x="180.46" y="482.95" width="9.81" height="19.55" fill="#ebebeb"/><rect x="190.27" y="482.95" width="9.81" height="19.55" fill="#d2d2d2"/><rect x="200.08" y="482.95" width="9.81" height="19.55" fill="#fffffb"/><rect x="209.89" y="482.95" width="9.81" height="19.55" fill="#ebebeb"/><rect x="219.7" y="482.95" width="9.81" height="19.55" fill="#0a0000"/><rect x="229.51" y="482.95" width="9.81" height="19.55" fill="#c0c0c0"/><rect x="239.32" y="482.95" width="9.81" height="19.55" fill="#ffff90"/><rect x="249.13" y="482.95" width="9.81" height="19.55" fill="#0a0000"/><rect x="258.94" y="482.95" width="9.81" height="19.55" fill="#0a0000"/><rect x="268.75" y="482.95" width="9.81" height="19.55" fill="#fffffb"/><rect x="278.56" y="482.95" width="9.81" height="19.55" fill="#d2d2d2"/><rect x="288.37" y="482.95" width="9.81" height="19.55" fill="#ebebeb"/><rect x="298.18" y="482.95" width="9.81" height="19.55" fill="#0a0000"/><rect x="307.99" y="482.95" width="9.81" height="19.55" fill="#ffffbe"/><rect x="317.8" y="482.95" width="9.81" height="19.55" fill="#0a0000"/><rect x="327.61" y="482.95" width="9.81" height="19.55" fill="#ebebeb"/><rect x="337.42" y="482.95" width="9.81" height="19.55" fill="#0a0000"/><rect x="347.23" y="482.95" width="9.81" height="19.55" fill="#0a0000"/><rect x="357.04" y="482.95" width="9.81" height="19.55" fill="#0a0000"/><rect x="366.85" y="482.95" width="9.81" height="19.55" fill="#0a0000"/><rect x="376.66" y="482.95" width="9.81" height="19.55" fill="#d2d2d2"/><rect x="386.47" y="482.95" width="9.81" height="19.55" fill="#0a0000"/><rect x="396.28" y="482.95" width="9.81" height="19.55" fill="#0a0000"/><rect x="406.09" y="482.95" width="9.81" height="19.55" fill="#ffff90"/><rect x="415.9" y="482.95" width="9.81" height="19.55" fill="#ebebeb"/><rect x="425.71" y="482.95" width="9.81" height="19.55" fill="#0a0000"/><rect x="435.52" y="482.95" width="9.81" height="19.55" fill="#ebebeb"/><rect x="445.33" y="482.95" width="9.81" height="19.55" fill="#0a0000"/><rect x="455.14" y="482.95" width="9.81" height="19.55" fill="#0a0000"/><rect x="464.95" y="482.95" width="9.81" height="19.55" fill="#0a0000"/><rect x="474.76" y="482.95" width="9.81" height="19.55" fill="#0a0000"/><rect x="484.57" y="482.95" width="9.81" height="19.55" fill="#0a0000"/><rect x="494.38" y="482.95" width="9.81" height="19.55" fill="#0a0000"/><rect x="504.19" y="482.95" width="9.81" height="19.55" fill="#fffffb"/><rect x="514" y="482.95" width="9.81" height="19.55" fill="#0a0000"/><rect x="523.81" y="482.95" width="9.81" height="19.55" fill="#0a0000"/><rect x="533.62" y="482.95" width="9.81" height="19.55" fill="#0a0000"/><rect x="543.43" y="482.95" width="9.81" height="19.55" fill="#0a0000"/><rect x="553.24" y="482.95" width="9.81" height="19.55" fill="#0a0000"/><rect x="563.05" y="482.95" width="9.81" height="19.55" fill="#fffffb"/><rect x="572.86" y="482.95" width="9.81" height="19.55" fill="#fffffb"/><rect x="582.67" y="482.95" width="9.81" height="19.55" fill="#0a0000"/>
<rect x="121.6" y="502.5" width="9.81" height="19.55" fill="#fffffb"/><rect x="131.41" y="502.5" width="9.81" height="19.55" fill="#0a0000"/><rect x="141.22" y="502.5" width="9.81" height="19.55" fill="#ffffbe"/><rect x="151.03" y="502.5" width="9.81" height="19.55" fill="#0a0000"/><rect x="160.84" y="502.5" width="9.81" height="19.55" fill="#ffff90"/><rect x="170.65" y="502.5" width="9.81" height="19.55" fill="#fffffb"/><rect x="180.46" y="502.5" width="9.81" height="19.55" fill="#fffffb"/><rect x="190.27" y="502.5" width="9.81" height="19.55" fill="#d2d2d2"/><rect x="200.08" y="502.5" width="9.81" height="19.55" fill="#ebebeb"/><rect x="209.89" y="502.5" width="9.81" height="19.55" fill="#ffffbe"/><rect x="219.7" y="502.5" width="9.81" height="19.55" fill="#d2d2d2"/><rect x="229.51" y="502.5" width="9.81" height="19.55" fill="#0a0000"/><rect x="239.32" y="502.5" width="9.81" height="19.55" fill="#fffffb"/><rect x="249.13" y="502.5" width="9.81" height="19.55" fill="#c0c0c0"/><rect x="258.94" y="502.5" width="9.81" height="19.55" fill="#0a0000"/><rect x="268.75" y="502.5" width="9.81" height="19.55" fill="#0a0000"/><rect x="278.56" y="502.5" width="9.81" height="19.55" fill="#0a0000"/><rect x="288.37" y="502.5" width="9.81" height="19.55" fill="#d2d2d2"/><rect x="298.18" y="502.5" width="9.81" height="19.55" fill="#0a0000"/><rect x="307.99" y="502.5" width="9.81" height="19.55" fill="#0a0000"/><rect x="317.8" y="502.5" width="9.81" height="19.55" fill="#0a0000"/><rect x="327.61" y="502.5" width="9.81" height="19.55" fill="#ffffbe"/><rect x="337.42" y="502.5" width="9.81" height="19.55" fill="#0a0000"/><rect x="347.23" y="502.5" width="9.81" height="19.55" fill="#0a0000"/><rect x="357.04" y="502.5" width="9.81" height="19.55" fill="#ebebeb"/><rect x="366.85" y="502.5" width="9.81" height="19.55" fill="#0a0000"/><rect x="376.66" y="502.5" width="9.81" height="19.55" fill="#c0c0c0"/><rect x="386.47" y="502.5" width="9.81" height="19.55" fill="#0a0000"/><rect x="396.28" y="502.5" width="9.81" height="19.55" fill="#0a0000"/><rect x="406.09" y="502.5" width="9.81" height="19.55" fill="#ebebeb"/><rect x="415.9" y="502.5" width="9.81" height="19.55" fill="#d2d2d2"/><rect x="425.71" y="502.5" width="9.81" height="19.55" fill="#0a0000"/><rect x="435.52" y="502.5" width="9.81" height="19.55" fill="#0a0000"/><rect x="445.33" y="502.5" width="9.81" height="19.55" fill="#0a0000"/><rect x="455.14" y="502.5" width="9.81" height="19.55" fill="#0a0000"/><rect x="464.95" y="502.5" width="9.81" height="19.55" fill="#ebebeb"/><rect x="474.76" y="502.5" width="9.81" height="19.55" fill="#0a0000"/><rect x="484.57" y="502.5" width="9.81" height="19.55" fill="#0a0000"/><rect x="494.38" y="502.5" width="9.81" height="19.55" fill="#0a0000"/><rect x="504.19" y="502.5" width="9.81" height="19.55" fill="#ffff90"/><rect x="514" y="502.5" width="9.81" height="19.55" fill="#0a0000"/><rect x="523.81" y="502.5" width="9.81" height="19.55" fill="#0a0000"/><rect x="533.62" y="502.5" width="9.81" height="19.55" fill="#0a0000"/><rect x="543.43" y="502.5" width="9.81" height="19.55" fill="#0a0000"/><rect x="553.24" y="502.5" width="9.81" height="19.55" fill="#0a0000"/><rect x="563.05" y="502.5" width="9.81" height="19.55" fill="#0a0000"/><rect x="572.86" y="502.5" width="9.81" height="19.55" fill="#ebebeb"/><rect x="582.67" y="502.5" width="9.81" height="19.55" fill="#0a0000"/>
<rect x="121.6" y="522.05" width="9.81" height="19.55" fill="#ffff90"/><rect x="131.41" y="522.05" width="9.81" height="19.55" fill="#ebebeb"/><rect x="141.22" y="522.05" width="9.81" height="19.55" fill="#0a0000"/><rect x="151.03" y="522.05" width="9.81" height="19.55" fill="#ebebeb"/><rect x="160.84" y="522.05" width="9.81" height="19.55" fill="#ffff18"/><rect x="170.65" y="522.05" width="9.81" height="19.55" fill="#0a0000"/><rect x="180.46" y="522.05" width="9.81" height="19.55" fill="#ffff18"/><rect x="190.27" y="522.05" width="9.81" height="19.55" fill="#ffc800"/><rect x="200.08" y="522.05" width="9.81" height="19.55" fill="#ff8400"/><rect x="209.89" y="522.05" width="9.81" height="19.55" fill="#ffffbe"/><rect x="219.7" y="522.05" width="9.81" height="19.55" fill="#fffffb"/><rect x="229.51" y="522.05" width="9.81" height="19.55" fill="#0a0000"/><rect x="239.32" y="522.05" width="9.81" height="19.55" fill="#ffff5c"/><rect x="249.13" y="522.05" width="9.81" height="19.55" fill="#0a0000"/><rect x="258.94" y="522.05" width="9.81" height="19.55" fill="#0a0000"/><rect x="268.75" y="522.05" width="9.81" height="19.55" fill="#0a0000"/><rect x="278.56" y="522.05" width="9.81" height="19.55" fill="#0a0000"/><rect x="288.37" y="522.05" width="9.81" height="19.55" fill="#0a0000"/><rect x="298.18" y="522.05" width="9.81" height="19.55" fill="#0a0000"/><rect x="307.99" y="522.05" width="9.81" height="19.55" fill="#0a0000"/><rect x="317.8" y="522.05" width="9.81" height="19.55" fill="#0a0000"/><rect x="327.61" y="522.05" width="9.81" height="19.55" fill="#ffff18"/><rect x="337.42" y="522.05" width="9.81" height="19.55" fill="#ffffbe"/><rect x="347.23" y="522.05" width="9.81" height="19.55" fill="#0a0000"/><rect x="357.04" y="522.05" width="9.81" height="19.55" fill="#0a0000"/><rect x="366.85" y="522.05" width="9.81" height="19.55" fill="#0a0000"/><rect x="376.66" y="522.05" width="9.81" height="19.55" fill="#ffff5c"/><rect x="386.47" y="522.05" width="9.81" height="19.55" fill="#0a0000"/><rect x="396.28" y="522.05" width="9.81" height="19.55" fill="#0a0000"/><rect x="406.09" y="522.05" width="9.81" height="19.55" fill="#ffff18"/><rect x="415.9" y="522.05" width="9.81" height="19.55" fill="#0a0000"/><rect x="425.71" y="522.05" width="9.81" height="19.55" fill="#0a0000"/><rect x="435.52" y="522.05" width="9.81" height="19.55" fill="#0a0000"/><rect x="445.33" y="522.05" width="9.81" height="19.55" fill="#0a0000"/><rect x="455.14" y="522.05" width="9.81" height="19.55" fill="#0a0000"/><rect x="464.95" y="522.05" width="9.81" height="19.55" fill="#0a0000"/><rect x="474.76" y="522.05" width="9.81" height="19.55" fill="#0a0000"/><rect x="484.57" y="522.05" width="9.81" height="19.55" fill="#0a0000"/><rect x="494.38" y="522.05" width="9.81" height="19.55" fill="#0a0000"/><rect x="504.19" y="522.05" width="9.81" height="19.55" fill="#ffff18"/><rect x="514" y="522.05" width="9.81" height="19.55" fill="#0a0000"/><rect x="523.81" y="522.05" width="9.81" height="19.55" fill="#0a0000"/><rect x="533.62" y="522.05" width="9.81" height="19.55" fill="#0a0000"/><rect x="543.43" y="522.05" width="9.81" height="19.55" fill="#0a0000"/><rect x="553.24" y="522.05" width="9.81" height="19.55" fill="#0a0000"/><rect x="563.05" y="522.05" width="9.81" height="19.55" fill="#0a0000"/><rect x="572.86" y="522.05" width="9.81" height="19.55" fill="#ffff90"/><rect x="582.67" y="522.05" width="9.81" height="19.55" fill="#0a0000"/>
<rect x="121.6" y="541.6" width="9.81" height="19.55" fill="#ffffbe"/><rect x="131.41" y="541.6" width="9.81" height="19.55" fill="#c0c0c0"/><rect x="141.22" y="541.6" width="9.81" height="19.55" fill="#ffff90"/><rect x="151.03" y="541.6" width="9.81" height="19.55" fill="#d2d2d2"/><rect x="160.84" y="541.6" width="9.81" height="19.55" fill="#ffc800"/><rect x="170.65" y="541.6" width="9.81" height="19.55" fill="#ffff5c"/><rect x="180.46" y="541.6" width="9.81" height="19.55" fill="#ffff18"/><rect x="190.27" y="541.6" width="9.81" height="19.55" fill="#0a0000"/><rect x="200.08" y="541.6" width="9.81" height="19.55" fill="#ffff18"/><rect x="209.89" y="541.6" width="9.81" height="19.55" fill="#ffffbe"/><rect x="219.7" y="541.6" width="9.81" height="19.55" fill="#0a0000"/><rect x="229.51" y="541.6" width="9.81" height="19.55" fill="#0a0000"/><rect x="239.32" y="541.6" width="9.81" height="19.55" fill="#0a0000"/><rect x="249.13" y="541.6" width="9.81" height="19.55" fill="#0a0000"/><rect x="258.94" y="541.6" width="9.81" height="19.55" fill="#0a0000"/><rect x="268.75" y="541.6" width="9.81" height="19.55" fill="#0a0000"/><rect x="278.56" y="541.6" width="9.81" height="19.55" fill="#0a0000"/><rect x="288.37" y="541.6" width="9.81" height="19.55" fill="#0a0000"/><rect x="298.18" y="541.6" width="9.81" height="19.55" fill="#fffffb"/><rect x="307.99" y="541.6" width="9.81" height="19.55" fill="#0a0000"/><rect x="317.8" y="541.6" width="9.81" height="19.55" fill="#d2d2d2"/><rect x="327.61" y="541.6" width="9.81" height="19.55" fill="#ffc800"/><rect x="337.42" y="541.6" width="9.81" height="19.55" fill="#0a0000"/><rect x="347.23" y="541.6" width="9.81" height="19.55" fill="#0a0000"/><rect x="357.04" y="541.6" width="9.81" height="19.55" fill="#0a0000"/><rect x="366.85" y="541.6" width="9.81" height="19.55" fill="#fffffb"/><rect x="376.66" y="541.6" width="9.81" height="19.55" fill="#ffff5c"/><rect x="386.47" y="541.6" width="9.81" height="19.55" fill="#0a0000"/><rect x="396.28" y="541.6" width="9.81" height="19.55" fill="#0a0000"/><rect x="406.09" y="541.6" width="9.81" height="19.55" fill="#ffff18"/><rect x="415.9" y="541.6" width="9.81" height="19.55" fill="#0a0000"/><rect x="425.71" y="541.6" width="9.81" height="19.55" fill="#ebebeb"/><rect x="435.52" y="541.6" width="9.81" height="19.55" fill="#0a0000"/><rect x="445.33" y="541.6" width="9.81" height="19.55" fill="#0a0000"/><rect x="455.14" y="541.6" width="9.81" height="19.55" fill="#0a0000"/><rect x="464.95" y="541.6" width="9.81" height="19.55" fill="#0a0000"/><rect x="474.76" y="541.6" width="9.81" height="19.55" fill="#0a0000"/><rect x="484.57" y="541.6" width="9.81" height="19.55" fill="#0a0000"/><rect x="494.38" y="541.6" width="9.81" height="19.55" fill="#0a0000"/><rect x="504.19" y="541.6" width="9.81" height="19.55" fill="#ff8400"/><rect x="514" y="541.6" width="9.81" height="19.55" fill="#0a0000"/><rect x="523.81" y="541.6" width="9.81" height="19.55" fill="#0a0000"/><rect x="533.62" y="541.6" width="9.81" height="19.55" fill="#0a0000"/><rect x="543.43" y="541.6" width="9.81" height="19.55" fill="#0a0000"/><rect x="553.24" y="541.6" width="9.81" height="19.55" fill="#0a0000"/><rect x="563.05" y="541.6" width="9.81" height="19.55" fill="#0a0000"/><rect x="572.86" y="541.6" width="9.81" height="19.55" fill="#0a0000"/><rect x="582.67" y="541.6" width="9.81" height="19.55" fill="#0a0000"/>
<rect x="121.6" y="561.15" width="9.81" height="19.55" fill="#ffff18"/><rect x="131.41" y="561.15" width="9.81" height="19.55" fill="#ebebeb"/><rect x="141.22" y="561.15" width="9.81" height="19.55" fill="#fffffb"/><rect x="151.03" y="561.15" width="9.81" height="19.55" fill="#ffff18"/><rect x="160.84" y="561.15" width="9.81" height="19.55" fill="#ff8400"/><rect x="170.65" y="561.15" width="9.81" height="19.55" fill="#ffff5c"/><rect x="180.46" y="561.15" width="9.81" height="19.55" fill="#ffff18"/><rect x="190.27" y="561.15" width="9.81" height="19.55" fill="#ffff5c"/><rect x="200.08" y="561.15" width="9.81" height="19.55" fill="#ffc800"/><rect x="209.89" y="561.15" width="9.81" height="19.55" fill="#ffff5c"/><rect x="219.7" y="561.15" width="9.81" height="19.55" fill="#ffff90"/><rect x="229.51" y="561.15" width="9.81" height="19.55" fill="#0a0000"/><rect x="239.32" y="561.15" width="9.81" height="19.55" fill="#0a0000"/><rect x="249.13" y="561.15" width="9.81" height="19.55" fill="#ffff90"/><rect x="258.94" y="561.15" width="9.81" height="19.55" fill="#0a0000"/><rect x="268.75" y="561.15" width="9.81" height="19.55" fill="#0a0000"/><rect x="278.56" y="561.15" width="9.81" height="19.55" fill="#0a0000"/><rect x="288.37" y="561.15" width="9.81" height="19.55" fill="#0a0000"/><rect x="298.18" y="561.15" width="9.81" height="19.55" fill="#ffff5c"/><rect x="307.99" y="561.15" width="9.81" height="19.55" fill="#ffff90"/><rect x="317.8" y="561.15" width="9.81" height="19.55" fill="#d2d2d2"/><rect x="327.61" y="561.15" width="9.81" height="19.55" fill="#ffc800"/><rect x="337.42" y="561.15" width="9.81" height="19.55" fill="#ffffbe"/><rect x="347.23" y="561.15" width="9.81" height="19.55" fill="#0a0000"/><rect x="357.04" y="561.15" width="9.81" height="19.55" fill="#ffff5c"/><rect x="366.85" y="561.15" width="9.81" height="19.55" fill="#ffff90"/><rect x="376.66" y="561.15" width="9.81" height="19.55" fill="#ffff18"/><rect x="386.47" y="561.15" width="9.81" height="19.55" fill="#0a0000"/><rect x="396.28" y="561.15" width="9.81" height="19.55" fill="#0a0000"/><rect x="406.09" y="561.15" width="9.81" height="19.55" fill="#ffff18"/><rect x="415.9" y="561.15" width="9.81" height="19.55" fill="#0a0000"/><rect x="425.71" y="561.15" width="9.81" height="19.55" fill="#c0c0c0"/><rect x="435.52" y="561.15" width="9.81" height="19.55" fill="#0a0000"/><rect x="445.33" y="561.15" width="9.81" height="19.55" fill="#0a0000"/><rect x="455.14" y="561.15" width="9.81" height="19.55" fill="#0a0000"/><rect x="464.95" y="561.15" width="9.81" height="19.55" fill="#0a0000"/><rect x="474.76" y="561.15" width="9.81" height="19.55" fill="#0a0000"/><rect x="484.57" y="561.15" width="9.81" height="19.55" fill="#0a0000"/><rect x="494.38" y="561.15" width="9.81" height="19.55" fill="#0a0000"/><rect x="504.19" y="561.15" width="9.81" height="19.55" fill="#ffff18"/><rect x="514" y="561.15" width="9.81" height="19.55" fill="#0a0000"/><rect x="523.81" y="561.15" width="9.81" height="19.55" fill="#0a0000"/><rect x="533.62" y="561.15" width="9.81" height="19.55" fill="#0a0000"/><rect x="543.43" y="561.15" width="9.81" height="19.55" fill="#0a0000"/><rect x="553.24" y="561.15" width="9.81" height="19.55" fill="#0a0000"/><rect x="563.05" y="561.15" width="9.81" height="19.55" fill="#ebebeb"/><rect x="572.86" y="561.15" width="9.81" height="19.55" fill="#ffff18"/><rect x="582.67" y="561.15" width="9.81" height="19.55" fill="#0a0000"/>
</g>
<rect x="112" y="30" width="9.6" height="555" fill="#fff"/>
<polyline points="121.6,33.3 592.48,33.3 592.48,580.7 121.6,580.7" fill="none" stroke="#222" stroke-width="1.2"/>
<g stroke="#1a1a1a" stroke-width="1.3" fill="none" stroke-linecap="square">
<line x1="42.2" y1="84.24" x2="42.2" y2="103.71"/><line x1="42.2" y1="84.24" x2="57" y2="84.24"/><line x1="42.2" y1="103.71" x2="57" y2="103.71"/><line x1="33.8" y1="64.77" x2="33.8" y2="93.97"/><line x1="33.8" y1="64.77" x2="57" y2="64.77"/><line x1="33.8" y1="93.97" x2="42.2" y2="93.97"/><line x1="50.6" y1="142.65" x2="50.6" y2="162.12"/><line x1="50.6" y1="142.65" x2="57" y2="142.65"/><line x1="50.6" y1="162.12" x2="57" y2="162.12"/><line x1="42.2" y1="123.18" x2="42.2" y2="152.38"/><line x1="42.2" y1="123.18" x2="57" y2="123.18"/><line x1="42.2" y1="152.38" x2="50.6" y2="152.38"/><line x1="47.5" y1="181.59" x2="47.5" y2="201.06"/><line x1="47.5" y1="181.59" x2="57" y2="181.59"/><line x1="47.5" y1="201.06" x2="57" y2="201.06"/><line x1="54" y1="220.53" x2="54" y2="240"/><line x1="54" y1="220.53" x2="57" y2="220.53"/><line x1="54" y1="240" x2="57" y2="240"/><line x1="31.2" y1="191.32" x2="31.2" y2="230.26"/><line x1="31.2" y1="191.32" x2="47.5" y2="191.32"/><line x1="31.2" y1="230.26" x2="54" y2="230.26"/><line x1="27.4" y1="137.78" x2="27.4" y2="210.79"/><line x1="27.4" y1="137.78" x2="42.2" y2="137.78"/><line x1="27.4" y1="210.79" x2="31.2" y2="210.79"/><line x1="22.8" y1="79.37" x2="22.8" y2="174.29"/><line x1="22.8" y1="79.37" x2="33.8" y2="79.37"/><line x1="22.8" y1="174.29" x2="27.4" y2="174.29"/><line x1="41.1" y1="259.47" x2="41.1" y2="278.94"/><line x1="41.1" y1="259.47" x2="57" y2="259.47"/><line x1="41.1" y1="278.94" x2="57" y2="278.94"/><line x1="50.6" y1="298.41" x2="50.6" y2="317.88"/><line x1="50.6" y1="298.41" x2="57" y2="298.41"/><line x1="50.6" y1="317.88" x2="57" y2="317.88"/><line x1="34.8" y1="269.2" x2="34.8" y2="308.14"/><line x1="34.8" y1="269.2" x2="41.1" y2="269.2"/><line x1="34.8" y1="308.14" x2="50.6" y2="308.14"/><line x1="50.6" y1="356.82" x2="50.6" y2="376.29"/><line x1="50.6" y1="356.82" x2="57" y2="356.82"/><line x1="50.6" y1="376.29" x2="57" y2="376.29"/><line x1="43.5" y1="337.35" x2="43.5" y2="366.56"/><line x1="43.5" y1="337.35" x2="57" y2="337.35"/><line x1="43.5" y1="366.56" x2="50.6" y2="366.56"/><line x1="31.2" y1="288.67" x2="31.2" y2="351.95"/><line x1="31.2" y1="288.67" x2="34.8" y2="288.67"/><line x1="31.2" y1="351.95" x2="43.5" y2="351.95"/><line x1="39.7" y1="395.76" x2="39.7" y2="415.23"/><line x1="39.7" y1="395.76" x2="57" y2="395.76"/><line x1="39.7" y1="415.23" x2="57" y2="415.23"/><line x1="53.6" y1="454.17" x2="53.6" y2="473.64"/><line x1="53.6" y1="454.17" x2="57" y2="454.17"/><line x1="53.6" y1="473.64" x2="57" y2="473.64"/><line x1="51.4" y1="434.7" x2="51.4" y2="463.9"/><line x1="51.4" y1="434.7" x2="57" y2="434.7"/><line x1="51.4" y1="463.9" x2="53.6" y2="463.9"/><line x1="42.7" y1="449.3" x2="42.7" y2="493.11"/><line x1="42.7" y1="449.3" x2="51.4" y2="449.3"/><line x1="42.7" y1="493.11" x2="57" y2="493.11"/><line x1="50.7" y1="512.58" x2="50.7" y2="532.05"/><line x1="50.7" y1="512.58" x2="57" y2="512.58"/><line x1="50.7" y1="532.05" x2="57" y2="532.05"/><line x1="53.6" y1="551.52" x2="53.6" y2="570.99"/><line x1="53.6" y1="551.52" x2="57" y2="551.52"/><line x1="53.6" y1="570.99" x2="57" y2="570.99"/><line x1="45.8" y1="522.31" x2="45.8" y2="561.25"/><line x1="45.8" y1="522.31" x2="50.7" y2="522.31"/><line x1="45.8" y1="561.25" x2="53.6" y2="561.25"/><line x1="40.5" y1="471.21" x2="40.5" y2="541.78"/><line x1="40.5" y1="471.21" x2="42.7" y2="471.21"/><line x1="40.5" y1="541.78" x2="45.8" y2="541.78"/><line x1="36" y1="405.5" x2="36" y2="506.5"/><line x1="36" y1="405.5" x2="39.7" y2="405.5"/><line x1="36" y1="506.5" x2="40.5" y2="506.5"/><line x1="24.5" y1="320.31" x2="24.5" y2="456"/><line x1="24.5" y1="320.31" x2="31.2" y2="320.31"/><line x1="24.5" y1="456" x2="36" y2="456"/><line x1="9.9" y1="126.83" x2="9.9" y2="388.15"/><line x1="9.9" y1="126.83" x2="22.8" y2="126.83"/><line x1="9.9" y1="388.15" x2="24.5" y2="388.15"/><line x1="1" y1="45.3" x2="1" y2="257.49" stroke-width="1.7"/><line x1="1" y1="45.3" x2="57" y2="45.3"/><line x1="1" y1="257.49" x2="9.9" y2="257.49"/>
</g>
<text x="60.5" y="51.9" font-size="16">OTU4</text>
<text x="60.5" y="71.27" font-size="16">OTU7</text>
<text x="60.5" y="90.64" font-size="16">OTU38</text>
<text x="60.5" y="110.01" font-size="16">OTU186</text>
<text x="60.5" y="129.38" font-size="16">OTU406</text>
<text x="60.5" y="148.75" font-size="16">OTU91</text>
<text x="60.5" y="168.12" font-size="16">OTU308</text>
<text x="60.5" y="187.49" font-size="16">OTU467</text>
<text x="60.5" y="206.86" font-size="16">OTU314</text>
<text x="60.5" y="226.23" font-size="16">OTU383</text>
<text x="60.5" y="245.6" font-size="16">OTU154</text>
<text x="60.5" y="264.97" font-size="16">OTU552</text>
<text x="60.5" y="284.34" font-size="16">OTU407</text>
<text x="60.5" y="303.71" font-size="16">OTU316</text>
<text x="60.5" y="323.08" font-size="16">OTU298</text>
<text x="60.5" y="342.45" font-size="16">OTU165</text>
<text x="60.5" y="361.82" font-size="16">OTU131</text>
<text x="60.5" y="381.19" font-size="16">OTU103</text>
<text x="60.5" y="400.56" font-size="16">OTU80</text>
<text x="60.5" y="419.93" font-size="16">OTU483</text>
<text x="60.5" y="439.3" font-size="16">OTU70</text>
<text x="60.5" y="458.67" font-size="16">OTU60</text>
<text x="60.5" y="478.04" font-size="16">OTU45</text>
<text x="60.5" y="497.41" font-size="16">OTU163</text>
<text x="60.5" y="516.78" font-size="16">OTU250</text>
<text x="60.5" y="536.15" font-size="16">OTU112</text>
<text x="60.5" y="555.52" font-size="16">OTU82</text>
<text x="60.5" y="574.89" font-size="16">OTU78</text>
<text x="596.8" y="49" font-size="16.4" class="i">Bacteroides</text>
<text x="596.8" y="68.44" font-size="16.4" class="i">Bacteroides</text>
<text x="596.8" y="87.88" font-size="16.4" class="i">Collinsella</text>
<text x="596.8" y="107.32" font-size="16.4" class="i">Slackia</text>
<text x="596.8" y="126.76" font-size="16.2">unclassified_Clostridia</text>
<text x="596.8" y="146.2" font-size="16.4" class="i">Paraprevotella</text>
<text x="596.8" y="165.64" font-size="16.2">unclassified_Firmicutes</text>
<text x="596.8" y="185.08" font-size="16.2">unclassified_Bacteria</text>
<text x="596.8" y="204.52" font-size="16.4" class="i">Lactobacillus</text>
<text x="596.8" y="223.96" font-size="16.2">unclassified_Firmicutes</text>
<text x="596.8" y="243.4" font-size="16.2">unclassified_Firmicutes</text>
<text x="596.8" y="262.84" font-size="16.2">unclassified_Ruminococcaceae</text>
<text x="596.8" y="282.28" font-size="16.2">unclassified_Clostridiales</text>
<text x="596.8" y="301.72" font-size="16.2">unclassified_Clostridiales</text>
<text x="596.8" y="321.16" font-size="16.2">unclassified_Firmicutes</text>
<text x="596.8" y="340.6" font-size="16.2">unclassified_Ruminococcaceae</text>
<text x="596.8" y="360.04" font-size="16.2"><tspan class="i">Clostridium</tspan> IV</text>
<text x="596.8" y="379.48" font-size="16.2">unclassified_Ruminococcaceae</text>
<text x="596.8" y="398.92" font-size="16.4" class="i">Akkermansia</text>
<text x="596.8" y="418.36" font-size="16.2">unclassified_Lachnospiraceae</text>
<text x="596.8" y="437.8" font-size="16.2">unclassified_Ruminococcaceae</text>
<text x="596.8" y="457.24" font-size="16.2">unclassified_Ruminococcaceae</text>
<text x="596.8" y="476.68" font-size="16.2">unclassified_Ruminococcaceae</text>
<text x="596.8" y="496.12" font-size="16.4" class="i">Oscillibacter</text>
<text x="596.8" y="515.56" font-size="16.2">unclassified_Ruminococcaceae</text>
<text x="596.8" y="535" font-size="16.2">unclassified_Firmicutes</text>
<text x="596.8" y="554.44" font-size="16.2">unclassified_Firmicutes</text>
<text x="596.8" y="573.88" font-size="16.2">unclassified_Ruminococcaceae</text>
<rect x="119.75" y="599" width="8.41" height="33.75" fill="#0a0000"/><rect x="127.16" y="599" width="8.41" height="33.75" fill="#120808"/><rect x="134.56" y="599" width="8.41" height="33.75" fill="#1a1010"/><rect x="141.97" y="599" width="8.41" height="33.75" fill="#221919"/><rect x="149.38" y="599" width="8.41" height="33.75" fill="#2a2121"/><rect x="156.78" y="599" width="8.41" height="33.75" fill="#322929"/><rect x="164.19" y="599" width="8.41" height="33.75" fill="#393131"/><rect x="171.59" y="599" width="8.41" height="33.75" fill="#413a3a"/><rect x="179" y="599" width="8.41" height="33.75" fill="#494242"/><rect x="186.41" y="599" width="8.41" height="33.75" fill="#514a4a"/><rect x="193.81" y="599" width="8.41" height="33.75" fill="#595252"/><rect x="201.22" y="599" width="8.41" height="33.75" fill="#615a5a"/><rect x="208.62" y="599" width="8.41" height="33.75" fill="#696363"/><rect x="216.03" y="599" width="8.41" height="33.75" fill="#716b6b"/><rect x="223.44" y="599" width="8.41" height="33.75" fill="#797373"/><rect x="230.84" y="599" width="8.41" height="33.75" fill="#817b7b"/><rect x="238.25" y="599" width="8.41" height="33.75" fill="#888484"/><rect x="245.66" y="599" width="8.41" height="33.75" fill="#908c8c"/><rect x="253.06" y="599" width="8.41" height="33.75" fill="#989494"/><rect x="260.47" y="599" width="8.41" height="33.75" fill="#a09c9c"/><rect x="267.88" y="599" width="8.41" height="33.75" fill="#a8a5a5"/><rect x="275.28" y="599" width="8.41" height="33.75" fill="#b0adad"/><rect x="282.69" y="599" width="8.41" height="33.75" fill="#b8b5b5"/><rect x="290.09" y="599" width="8.41" height="33.75" fill="#c0bdbd"/><rect x="297.5" y="599" width="8.41" height="33.75" fill="#c8c5c5"/><rect x="304.91" y="599" width="8.41" height="33.75" fill="#d0cece"/><rect x="312.31" y="599" width="8.41" height="33.75" fill="#d7d6d6"/><rect x="319.72" y="599" width="8.41" height="33.75" fill="#dfdede"/><rect x="327.12" y="599" width="8.41" height="33.75" fill="#e7e6e6"/><rect x="334.53" y="599" width="8.41" height="33.75" fill="#efefef"/><rect x="341.94" y="599" width="8.41" height="33.75" fill="#f7f7f7"/><rect x="349.34" y="599" width="8.41" height="33.75" fill="#ffffff"/><rect x="356.75" y="599" width="8.41" height="33.75" fill="#ffffef"/><rect x="364.16" y="599" width="8.41" height="33.75" fill="#ffffdf"/><rect x="371.56" y="599" width="8.41" height="33.75" fill="#ffffcf"/><rect x="378.97" y="599" width="8.41" height="33.75" fill="#ffffbf"/><rect x="386.38" y="599" width="8.41" height="33.75" fill="#ffffaf"/><rect x="393.78" y="599" width="8.41" height="33.75" fill="#ffff9f"/><rect x="401.19" y="599" width="8.41" height="33.75" fill="#ffff8f"/><rect x="408.59" y="599" width="8.41" height="33.75" fill="#ffff80"/><rect x="416" y="599" width="8.41" height="33.75" fill="#ffff70"/><rect x="423.41" y="599" width="8.41" height="33.75" fill="#ffff60"/><rect x="430.81" y="599" width="8.41" height="33.75" fill="#ffff50"/><rect x="438.22" y="599" width="8.41" height="33.75" fill="#ffff40"/><rect x="445.62" y="599" width="8.41" height="33.75" fill="#ffff30"/><rect x="453.03" y="599" width="8.41" height="33.75" fill="#ffff20"/><rect x="460.44" y="599" width="8.41" height="33.75" fill="#ffff10"/><rect x="467.84" y="599" width="8.41" height="33.75" fill="#ffff00"/><rect x="475.25" y="599" width="8.41" height="33.75" fill="#ffdd00"/><rect x="482.66" y="599" width="8.41" height="33.75" fill="#ffc000"/><rect x="490.06" y="599" width="8.41" height="33.75" fill="#ffa800"/><rect x="497.47" y="599" width="8.41" height="33.75" fill="#ff9000"/><rect x="504.88" y="599" width="8.41" height="33.75" fill="#ff7800"/><rect x="512.28" y="599" width="8.41" height="33.75" fill="#ff6000"/><rect x="519.69" y="599" width="8.41" height="33.75" fill="#ff4000"/><rect x="527.09" y="599" width="8.41" height="33.75" fill="#ff2000"/><rect x="534.5" y="599" width="8.41" height="33.75" fill="#ff0000"/><rect x="541.91" y="599" width="8.41" height="33.75" fill="#fc0000"/><rect x="549.31" y="599" width="8.41" height="33.75" fill="#f40000"/><rect x="556.72" y="599" width="8.41" height="33.75" fill="#ea0000"/><rect x="564.12" y="599" width="8.41" height="33.75" fill="#e00000"/><rect x="571.53" y="599" width="8.41" height="33.75" fill="#d60000"/><rect x="578.94" y="599" width="8.41" height="33.75" fill="#ce0000"/><rect x="586.34" y="599" width="7.41" height="33.75" fill="#c60000"/>
<rect x="119.75" y="599" width="474" height="33.75" fill="none" stroke="#8a8a8a" stroke-width="1"/>
<line x1="191.45" y1="599" x2="191.45" y2="603" stroke="#333" stroke-width="0.8"/><line x1="191.45" y1="628.75" x2="191.45" y2="632.75" stroke="#333" stroke-width="0.8"/><line x1="263.15" y1="599" x2="263.15" y2="603" stroke="#333" stroke-width="0.8"/><line x1="263.15" y1="628.75" x2="263.15" y2="632.75" stroke="#333" stroke-width="0.8"/><line x1="334.85" y1="599" x2="334.85" y2="603" stroke="#333" stroke-width="0.8"/><line x1="334.85" y1="628.75" x2="334.85" y2="632.75" stroke="#333" stroke-width="0.8"/><line x1="406.55" y1="599" x2="406.55" y2="603" stroke="#333" stroke-width="0.8"/><line x1="406.55" y1="628.75" x2="406.55" y2="632.75" stroke="#333" stroke-width="0.8"/><line x1="478.25" y1="599" x2="478.25" y2="603" stroke="#333" stroke-width="0.8"/><line x1="478.25" y1="628.75" x2="478.25" y2="632.75" stroke="#333" stroke-width="0.8"/><line x1="549.95" y1="599" x2="549.95" y2="603" stroke="#333" stroke-width="0.8"/><line x1="549.95" y1="628.75" x2="549.95" y2="632.75" stroke="#333" stroke-width="0.8"/>
<text class="s" x="119.75" y="659.8" font-size="16.5" text-anchor="middle">0</text>
<text class="s" x="191.45" y="659.8" font-size="16.5" text-anchor="middle">1</text>
<text class="s" x="263.15" y="659.8" font-size="16.5" text-anchor="middle">2</text>
<text class="s" x="334.85" y="659.8" font-size="16.5" text-anchor="middle">3</text>
<text class="s" x="406.55" y="659.8" font-size="16.5" text-anchor="middle">4</text>
<text class="s" x="478.25" y="659.8" font-size="16.5" text-anchor="middle">5</text>
<text class="s" x="549.95" y="659.8" font-size="16.5" text-anchor="middle">6</text>
</svg>
</body></html>
